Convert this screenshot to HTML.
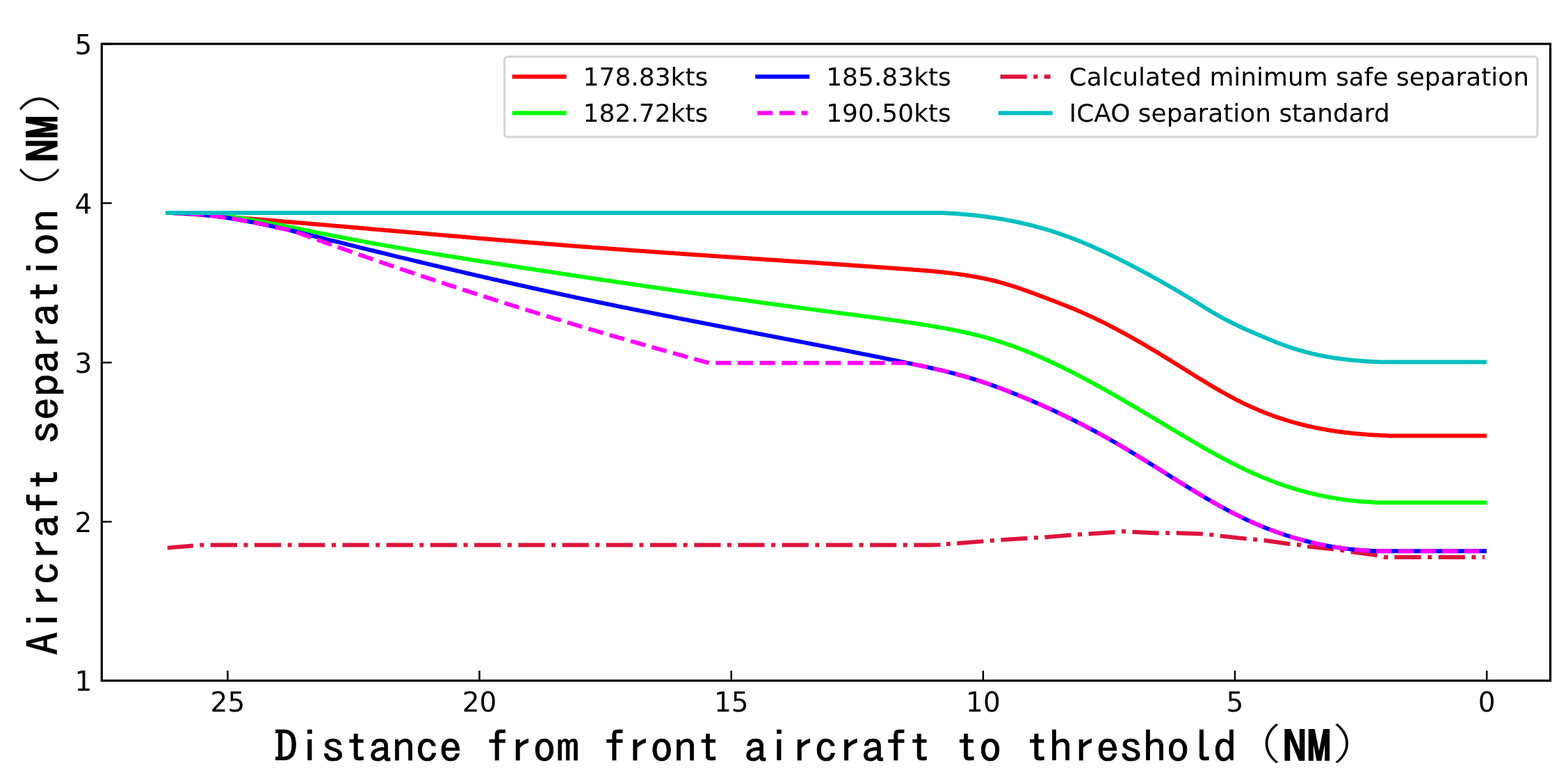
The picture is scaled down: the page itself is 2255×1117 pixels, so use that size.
<!DOCTYPE html>
<html><head><meta charset="utf-8"><title>Aircraft separation chart</title>
<style>html,body{margin:0;padding:0;background:#fff;}svg{display:block;}</style></head>
<body>
<svg width="2255" height="1117" viewBox="0 0 2255 1117">
<rect width="2255" height="1117" fill="#fff"/>
<g fill="none" stroke-width="5.96" stroke-linejoin="round">
<path d="M240.9,787.6 L289.0,783.6 L1340.0,783.6 L1351.0,783.0 L1357.0,782.5" stroke="#dc143c" stroke-dasharray="38.18 9.54 5.96 9.54" stroke-dashoffset="1.16"/>
<path d="M1357.0,782.5 L1377.6,781.0 L1414.2,778.1 L1439.7,776.1 L1477.4,773.7 L1502.9,772.2 L1539.5,769.3 L1553.3,768.3 L1566.0,767.5 L1602.7,765.0 L1616.0,763.8 L1630.0,764.7 L1666.4,766.4 L1692.0,766.2 L1728.5,767.4 L1741.2,768.6 L1754.0,770.3 L1791.7,774.4 L1804.0,775.5 L1817.8,776.8 L1852.9,781.8 L1866.7,783.0 L1880.5,785.6 L1915.5,789.3 L1929.3,791.0 L1941.9,793.1 L1978.2,798.1 L1990.7,801.1 L2135.0,801.1" stroke="#dc143c" stroke-dasharray="38.18 9.54 5.96 9.54" stroke-dashoffset="43.86"/>
<path d="M241.0,305.9 L243.0,305.9 L245.0,306.0 L247.0,306.0 L249.0,306.1 L251.0,306.2 L253.0,306.3 L255.0,306.4 L257.0,306.5 L259.0,306.6 L261.0,306.7 L263.0,306.9 L265.0,307.0 L267.0,307.2 L269.0,307.3 L271.0,307.5 L273.0,307.7 L275.0,307.8 L277.0,308.0 L279.0,308.1 L281.0,308.3 L283.0,308.4 L285.0,308.6 L287.0,308.7 L289.0,308.9 L291.0,309.0 L293.0,309.2 L295.0,309.3 L297.0,309.5 L299.0,309.6 L301.0,309.8 L303.0,309.9 L305.0,310.1 L307.0,310.3 L309.0,310.4 L311.0,310.6 L313.0,310.7 L315.0,310.9 L317.0,311.0 L319.0,311.2 L321.0,311.3 L323.0,311.5 L325.0,311.7 L327.0,311.8 L329.0,312.0 L331.0,312.1 L333.0,312.3 L335.0,312.5 L337.0,312.6 L339.0,312.8 L341.0,312.9 L343.0,313.1 L345.0,313.3 L347.0,313.4 L349.0,313.6 L351.0,313.7 L353.0,313.9 L355.0,314.1 L357.0,314.2 L359.0,314.4 L361.0,314.5 L363.0,314.7 L365.0,314.9 L367.0,315.0 L369.0,315.2 L371.0,315.4 L373.0,315.5 L375.0,315.7 L377.0,315.8 L379.0,316.0 L381.0,316.2 L383.0,316.3 L385.0,316.5 L387.0,316.7 L389.0,316.8 L391.0,317.0 L393.0,317.2 L395.0,317.3 L397.0,317.5 L399.0,317.7 L401.0,317.8 L403.0,318.0 L405.0,318.2 L407.0,318.3 L409.0,318.5 L411.0,318.7 L413.0,318.8 L415.0,319.0 L417.0,319.2 L419.0,319.3 L421.0,319.5 L423.0,319.7 L425.0,319.8 L427.0,320.0 L429.0,320.2 L431.0,320.3 L433.0,320.5 L435.0,320.7 L437.0,320.8 L439.0,321.0 L441.0,321.2 L443.0,321.4 L445.0,321.5 L447.0,321.7 L449.0,321.9 L451.0,322.0 L453.0,322.2 L455.0,322.4 L457.0,322.5 L459.0,322.7 L461.0,322.9 L463.0,323.1 L465.0,323.2 L467.0,323.4 L469.0,323.6 L471.0,323.7 L473.0,323.9 L475.0,324.1 L477.0,324.3 L479.0,324.4 L481.0,324.6 L483.0,324.8 L485.0,324.9 L487.0,325.1 L489.0,325.3 L491.0,325.5 L493.0,325.6 L495.0,325.8 L497.0,326.0 L499.0,326.1 L501.0,326.3 L503.0,326.5 L505.0,326.7 L507.0,326.8 L509.0,327.0 L511.0,327.2 L513.0,327.3 L515.0,327.5 L517.0,327.7 L519.0,327.9 L521.0,328.0 L523.0,328.2 L525.0,328.4 L527.0,328.6 L529.0,328.7 L531.0,328.9 L533.0,329.1 L535.0,329.3 L537.0,329.4 L539.0,329.6 L541.0,329.8 L543.0,329.9 L545.0,330.1 L547.0,330.3 L549.0,330.5 L551.0,330.6 L553.0,330.8 L555.0,331.0 L557.0,331.2 L559.0,331.3 L561.0,331.5 L563.0,331.7 L565.0,331.9 L567.0,332.0 L569.0,332.2 L571.0,332.4 L573.0,332.5 L575.0,332.7 L577.0,332.9 L579.0,333.1 L581.0,333.2 L583.0,333.4 L585.0,333.6 L587.0,333.8 L589.0,333.9 L591.0,334.1 L593.0,334.3 L595.0,334.5 L597.0,334.6 L599.0,334.8 L601.0,335.0 L603.0,335.1 L605.0,335.3 L607.0,335.5 L609.0,335.7 L611.0,335.8 L613.0,336.0 L615.0,336.2 L617.0,336.4 L619.0,336.5 L621.0,336.7 L623.0,336.9 L625.0,337.0 L627.0,337.2 L629.0,337.4 L631.0,337.6 L633.0,337.7 L635.0,337.9 L637.0,338.1 L639.0,338.3 L641.0,338.4 L643.0,338.6 L645.0,338.8 L647.0,338.9 L649.0,339.1 L651.0,339.3 L653.0,339.5 L655.0,339.6 L657.0,339.8 L659.0,340.0 L661.0,340.1 L663.0,340.3 L665.0,340.5 L667.0,340.7 L669.0,340.8 L671.0,341.0 L673.0,341.2 L675.0,341.3 L677.0,341.5 L679.0,341.7 L681.0,341.8 L683.0,342.0 L685.0,342.2 L687.0,342.4 L689.0,342.5 L691.0,342.7 L693.0,342.9 L695.0,343.0 L697.0,343.2 L699.0,343.4 L701.0,343.5 L703.0,343.7 L705.0,343.9 L707.0,344.0 L709.0,344.2 L711.0,344.4 L713.0,344.5 L715.0,344.7 L717.0,344.9 L719.0,345.0 L721.0,345.2 L723.0,345.4 L725.0,345.5 L727.0,345.7 L729.0,345.9 L731.0,346.0 L733.0,346.2 L735.0,346.4 L737.0,346.5 L739.0,346.7 L741.0,346.9 L743.0,347.0 L745.0,347.2 L747.0,347.4 L749.0,347.5 L751.0,347.7 L753.0,347.9 L755.0,348.0 L757.0,348.2 L759.0,348.3 L761.0,348.5 L763.0,348.7 L765.0,348.8 L767.0,349.0 L769.0,349.2 L771.0,349.3 L773.0,349.5 L775.0,349.6 L777.0,349.8 L779.0,350.0 L781.0,350.1 L783.0,350.3 L785.0,350.4 L787.0,350.6 L789.0,350.8 L791.0,350.9 L793.0,351.1 L795.0,351.2 L797.0,351.4 L799.0,351.6 L801.0,351.7 L803.0,351.9 L805.0,352.0 L807.0,352.2 L809.0,352.4 L811.0,352.5 L813.0,352.7 L815.0,352.8 L817.0,353.0 L819.0,353.1 L821.0,353.3 L823.0,353.4 L825.0,353.6 L827.0,353.8 L829.0,353.9 L831.0,354.1 L833.0,354.2 L835.0,354.4 L837.0,354.5 L839.0,354.7 L841.0,354.8 L843.0,355.0 L845.0,355.1 L847.0,355.3 L849.0,355.4 L851.0,355.6 L853.0,355.7 L855.0,355.9 L857.0,356.0 L859.0,356.2 L861.0,356.3 L863.0,356.5 L865.0,356.6 L867.0,356.8 L869.0,356.9 L871.0,357.1 L873.0,357.2 L875.0,357.4 L877.0,357.5 L879.0,357.7 L881.0,357.8 L883.0,358.0 L885.0,358.1 L887.0,358.3 L889.0,358.4 L891.0,358.6 L893.0,358.7 L895.0,358.8 L897.0,359.0 L899.0,359.1 L901.0,359.3 L903.0,359.4 L905.0,359.6 L907.0,359.7 L909.0,359.9 L911.0,360.0 L913.0,360.1 L915.0,360.3 L917.0,360.4 L919.0,360.6 L921.0,360.7 L923.0,360.9 L925.0,361.0 L927.0,361.1 L929.0,361.3 L931.0,361.4 L933.0,361.6 L935.0,361.7 L937.0,361.9 L939.0,362.0 L941.0,362.1 L943.0,362.3 L945.0,362.4 L947.0,362.6 L949.0,362.7 L951.0,362.8 L953.0,363.0 L955.0,363.1 L957.0,363.3 L959.0,363.4 L961.0,363.5 L963.0,363.7 L965.0,363.8 L967.0,364.0 L969.0,364.1 L971.0,364.2 L973.0,364.4 L975.0,364.5 L977.0,364.6 L979.0,364.8 L981.0,364.9 L983.0,365.1 L985.0,365.2 L987.0,365.3 L989.0,365.5 L991.0,365.6 L993.0,365.7 L995.0,365.9 L997.0,366.0 L999.0,366.2 L1001.0,366.3 L1003.0,366.4 L1005.0,366.6 L1007.0,366.7 L1009.0,366.8 L1011.0,367.0 L1013.0,367.1 L1015.0,367.2 L1017.0,367.4 L1019.0,367.5 L1021.0,367.6 L1023.0,367.8 L1025.0,367.9 L1027.0,368.1 L1029.0,368.2 L1031.0,368.3 L1033.0,368.5 L1035.0,368.6 L1037.0,368.7 L1039.0,368.9 L1041.0,369.0 L1043.0,369.1 L1045.0,369.3 L1047.0,369.4 L1049.0,369.5 L1051.0,369.7 L1053.0,369.8 L1055.0,369.9 L1057.0,370.1 L1059.0,370.2 L1061.0,370.3 L1063.0,370.5 L1065.0,370.6 L1067.0,370.7 L1069.0,370.9 L1071.0,371.0 L1073.0,371.1 L1075.0,371.3 L1077.0,371.4 L1079.0,371.5 L1081.0,371.7 L1083.0,371.8 L1085.0,371.9 L1087.0,372.1 L1089.0,372.2 L1091.0,372.3 L1093.0,372.5 L1095.0,372.6 L1097.0,372.7 L1099.0,372.9 L1101.0,373.0 L1103.0,373.2 L1105.0,373.3 L1107.0,373.4 L1109.0,373.6 L1111.0,373.7 L1113.0,373.8 L1115.0,374.0 L1117.0,374.1 L1119.0,374.2 L1121.0,374.4 L1123.0,374.5 L1125.0,374.6 L1127.0,374.8 L1129.0,374.9 L1131.0,375.0 L1133.0,375.2 L1135.0,375.3 L1137.0,375.4 L1139.0,375.6 L1141.0,375.7 L1143.0,375.8 L1145.0,376.0 L1147.0,376.1 L1149.0,376.2 L1151.0,376.4 L1153.0,376.5 L1155.0,376.6 L1157.0,376.8 L1159.0,376.9 L1161.0,377.0 L1163.0,377.2 L1165.0,377.3 L1167.0,377.4 L1169.0,377.6 L1171.0,377.7 L1173.0,377.8 L1175.0,378.0 L1177.0,378.1 L1179.0,378.2 L1181.0,378.4 L1183.0,378.5 L1185.0,378.7 L1187.0,378.8 L1189.0,378.9 L1191.0,379.1 L1193.0,379.2 L1195.0,379.3 L1197.0,379.5 L1199.0,379.6 L1201.0,379.7 L1203.0,379.9 L1205.0,380.0 L1207.0,380.2 L1209.0,380.3 L1211.0,380.4 L1213.0,380.6 L1215.0,380.7 L1217.0,380.8 L1219.0,381.0 L1221.0,381.1 L1223.0,381.3 L1225.0,381.4 L1227.0,381.5 L1229.0,381.7 L1231.0,381.8 L1233.0,381.9 L1235.0,382.1 L1237.0,382.2 L1239.0,382.4 L1241.0,382.5 L1243.0,382.6 L1245.0,382.8 L1247.0,382.9 L1249.0,383.1 L1251.0,383.2 L1253.0,383.3 L1255.0,383.5 L1257.0,383.6 L1259.0,383.8 L1261.0,383.9 L1263.0,384.0 L1265.0,384.2 L1267.0,384.3 L1269.0,384.5 L1271.0,384.6 L1273.0,384.7 L1275.0,384.9 L1277.0,385.0 L1279.0,385.2 L1281.0,385.3 L1283.0,385.5 L1285.0,385.6 L1287.0,385.7 L1289.0,385.9 L1291.0,386.0 L1293.0,386.2 L1295.0,386.3 L1297.0,386.5 L1299.0,386.6 L1301.0,386.8 L1303.0,386.9 L1305.0,387.0 L1307.0,387.2 L1309.0,387.3 L1311.0,387.5 L1313.0,387.6 L1315.0,387.8 L1317.0,387.9 L1319.0,388.1 L1321.0,388.2 L1323.0,388.4 L1325.0,388.6 L1327.0,388.7 L1329.0,388.9 L1331.0,389.0 L1333.0,389.2 L1335.0,389.4 L1337.0,389.6 L1339.0,389.7 L1341.0,389.9 L1343.0,390.1 L1345.0,390.3 L1347.0,390.5 L1349.0,390.7 L1351.0,390.9 L1353.0,391.1 L1355.0,391.3 L1357.0,391.5 L1359.0,391.7 L1361.0,391.9 L1363.0,392.2 L1365.0,392.4 L1367.0,392.6 L1369.0,392.9 L1371.0,393.1 L1373.0,393.4 L1375.0,393.6 L1377.0,393.9 L1379.0,394.2 L1381.0,394.5 L1383.0,394.8 L1385.0,395.0 L1387.0,395.3 L1389.0,395.7 L1391.0,396.0 L1393.0,396.3 L1395.0,396.6 L1397.0,397.0 L1399.0,397.3 L1401.0,397.7 L1403.0,398.0 L1405.0,398.4 L1407.0,398.8 L1409.0,399.1 L1411.0,399.5 L1413.0,399.9 L1415.0,400.4 L1417.0,400.8 L1419.0,401.2 L1421.0,401.7 L1423.0,402.1 L1425.0,402.6 L1427.0,403.0 L1429.0,403.5 L1431.0,404.0 L1433.0,404.5 L1435.0,405.0 L1437.0,405.6 L1439.0,406.1 L1441.0,406.7 L1443.0,407.2 L1445.0,407.8 L1447.0,408.4 L1449.0,409.0 L1451.0,409.6 L1453.0,410.2 L1455.0,410.8 L1457.0,411.4 L1459.0,412.1 L1461.0,412.7 L1463.0,413.4 L1465.0,414.1 L1467.0,414.8 L1469.0,415.5 L1471.0,416.2 L1473.0,416.9 L1475.0,417.6 L1477.0,418.3 L1479.0,419.0 L1481.0,419.7 L1483.0,420.5 L1485.0,421.2 L1487.0,422.0 L1489.0,422.7 L1491.0,423.4 L1493.0,424.2 L1495.0,424.9 L1497.0,425.7 L1499.0,426.4 L1501.0,427.2 L1503.0,428.0 L1505.0,428.7 L1507.0,429.5 L1509.0,430.2 L1511.0,431.0 L1513.0,431.8 L1515.0,432.5 L1517.0,433.3 L1519.0,434.1 L1521.0,434.8 L1523.0,435.6 L1525.0,436.4 L1527.0,437.2 L1529.0,438.0 L1531.0,438.7 L1533.0,439.5 L1535.0,440.3 L1537.0,441.2 L1539.0,442.0 L1541.0,442.8 L1543.0,443.6 L1545.0,444.4 L1547.0,445.3 L1549.0,446.1 L1551.0,447.0 L1553.0,447.8 L1555.0,448.7 L1557.0,449.6 L1559.0,450.5 L1561.0,451.4 L1563.0,452.3 L1565.0,453.2 L1567.0,454.1 L1569.0,455.0 L1571.0,456.0 L1573.0,456.9 L1575.0,457.9 L1577.0,458.8 L1579.0,459.8 L1581.0,460.7 L1583.0,461.7 L1585.0,462.7 L1587.0,463.7 L1589.0,464.7 L1591.0,465.7 L1593.0,466.7 L1595.0,467.7 L1597.0,468.8 L1599.0,469.8 L1601.0,470.8 L1603.0,471.9 L1605.0,472.9 L1607.0,474.0 L1609.0,475.1 L1611.0,476.1 L1613.0,477.2 L1615.0,478.3 L1617.0,479.4 L1619.0,480.5 L1621.0,481.6 L1623.0,482.7 L1625.0,483.8 L1627.0,484.9 L1629.0,486.0 L1631.0,487.2 L1633.0,488.3 L1635.0,489.4 L1637.0,490.6 L1639.0,491.7 L1641.0,492.9 L1643.0,494.0 L1645.0,495.2 L1647.0,496.4 L1649.0,497.5 L1651.0,498.7 L1653.0,499.9 L1655.0,501.1 L1657.0,502.3 L1659.0,503.4 L1661.0,504.6 L1663.0,505.8 L1665.0,507.0 L1667.0,508.3 L1669.0,509.5 L1671.0,510.7 L1673.0,511.9 L1675.0,513.1 L1677.0,514.4 L1679.0,515.6 L1681.0,516.8 L1683.0,518.0 L1685.0,519.3 L1687.0,520.5 L1689.0,521.8 L1691.0,523.0 L1693.0,524.3 L1695.0,525.5 L1697.0,526.8 L1699.0,528.0 L1701.0,529.3 L1703.0,530.5 L1705.0,531.8 L1707.0,533.0 L1709.0,534.3 L1711.0,535.5 L1713.0,536.8 L1715.0,538.0 L1717.0,539.2 L1719.0,540.5 L1721.0,541.7 L1723.0,543.0 L1725.0,544.2 L1727.0,545.4 L1729.0,546.6 L1731.0,547.8 L1733.0,549.1 L1735.0,550.3 L1737.0,551.5 L1739.0,552.7 L1741.0,553.9 L1743.0,555.1 L1745.0,556.2 L1747.0,557.4 L1749.0,558.6 L1751.0,559.7 L1753.0,560.9 L1755.0,562.1 L1757.0,563.2 L1759.0,564.3 L1761.0,565.4 L1763.0,566.5 L1765.0,567.6 L1767.0,568.7 L1769.0,569.8 L1771.0,570.9 L1773.0,572.0 L1775.0,573.0 L1777.0,574.1 L1779.0,575.1 L1781.0,576.1 L1783.0,577.1 L1785.0,578.1 L1787.0,579.1 L1789.0,580.1 L1791.0,581.0 L1793.0,582.0 L1795.0,582.9 L1797.0,583.8 L1799.0,584.7 L1801.0,585.6 L1803.0,586.5 L1805.0,587.4 L1807.0,588.3 L1809.0,589.1 L1811.0,590.0 L1813.0,590.8 L1815.0,591.6 L1817.0,592.4 L1819.0,593.2 L1821.0,594.0 L1823.0,594.8 L1825.0,595.5 L1827.0,596.3 L1829.0,597.0 L1831.0,597.7 L1833.0,598.5 L1835.0,599.2 L1837.0,599.9 L1839.0,600.6 L1841.0,601.2 L1843.0,601.9 L1845.0,602.5 L1847.0,603.2 L1849.0,603.8 L1851.0,604.4 L1853.0,605.0 L1855.0,605.6 L1857.0,606.2 L1859.0,606.8 L1861.0,607.4 L1863.0,607.9 L1865.0,608.5 L1867.0,609.0 L1869.0,609.5 L1871.0,610.0 L1873.0,610.5 L1875.0,611.0 L1877.0,611.5 L1879.0,612.0 L1881.0,612.5 L1883.0,612.9 L1885.0,613.4 L1887.0,613.8 L1889.0,614.2 L1891.0,614.6 L1893.0,615.1 L1895.0,615.5 L1897.0,615.8 L1899.0,616.2 L1901.0,616.6 L1903.0,617.0 L1905.0,617.3 L1907.0,617.7 L1909.0,618.0 L1911.0,618.4 L1913.0,618.7 L1915.0,619.0 L1917.0,619.3 L1919.0,619.6 L1921.0,619.9 L1923.0,620.2 L1925.0,620.5 L1927.0,620.7 L1929.0,621.0 L1931.0,621.3 L1933.0,621.5 L1935.0,621.8 L1937.0,622.0 L1939.0,622.2 L1941.0,622.4 L1943.0,622.7 L1945.0,622.9 L1947.0,623.1 L1949.0,623.3 L1951.0,623.5 L1953.0,623.6 L1955.0,623.8 L1957.0,624.0 L1959.0,624.2 L1961.0,624.3 L1963.0,624.5 L1965.0,624.6 L1967.0,624.8 L1969.0,624.9 L1971.0,625.0 L1973.0,625.2 L1975.0,625.3 L1977.0,625.4 L1979.0,625.5 L1981.0,625.6 L1983.0,625.7 L1985.0,625.8 L1987.0,625.9 L1989.0,626.0 L1991.0,626.1 L1993.0,626.2 L1995.0,626.3 L1997.0,626.3 L1999.0,626.4 L2001.0,626.4 L2003.0,626.4 L2005.0,626.4 L2007.0,626.4 L2009.0,626.4 L2011.0,626.4 L2013.0,626.4 L2015.0,626.4 L2017.0,626.4 L2019.0,626.4 L2021.0,626.4 L2023.0,626.4 L2025.0,626.4 L2027.0,626.4 L2029.0,626.4 L2031.0,626.4 L2033.0,626.4 L2035.0,626.4 L2037.0,626.4 L2039.0,626.4 L2041.0,626.4 L2043.0,626.4 L2045.0,626.4 L2047.0,626.4 L2049.0,626.4 L2051.0,626.4 L2053.0,626.4 L2055.0,626.4 L2057.0,626.4 L2059.0,626.4 L2061.0,626.4 L2063.0,626.4 L2065.0,626.4 L2067.0,626.4 L2069.0,626.4 L2071.0,626.4 L2073.0,626.4 L2075.0,626.4 L2077.0,626.4 L2079.0,626.4 L2081.0,626.4 L2083.0,626.4 L2085.0,626.4 L2087.0,626.4 L2089.0,626.4 L2091.0,626.4 L2093.0,626.4 L2095.0,626.4 L2097.0,626.4 L2099.0,626.4 L2101.0,626.4 L2103.0,626.4 L2105.0,626.4 L2107.0,626.4 L2109.0,626.4 L2111.0,626.4 L2113.0,626.4 L2115.0,626.4 L2117.0,626.4 L2119.0,626.4 L2121.0,626.4 L2123.0,626.4 L2125.0,626.4 L2127.0,626.4 L2129.0,626.4 L2131.0,626.4 L2133.0,626.4 L2135.0,626.4" stroke="#ff0000" stroke-linecap="square"/>
<path d="M241.0,305.9 L243.0,305.9 L245.0,305.9 L247.0,305.9 L249.0,305.9 L251.0,305.9 L253.0,305.9 L255.0,305.9 L257.0,305.9 L259.0,305.9 L261.0,305.9 L263.0,306.0 L265.0,306.0 L267.0,306.1 L269.0,306.1 L271.0,306.2 L273.0,306.2 L275.0,306.3 L277.0,306.4 L279.0,306.5 L281.0,306.6 L283.0,306.8 L285.0,306.9 L287.0,307.0 L289.0,307.2 L291.0,307.3 L293.0,307.5 L295.0,307.6 L297.0,307.8 L299.0,308.0 L301.0,308.1 L303.0,308.3 L305.0,308.5 L307.0,308.7 L309.0,308.9 L311.0,309.1 L313.0,309.3 L315.0,309.6 L317.0,309.8 L319.0,310.0 L321.0,310.3 L323.0,310.5 L325.0,310.8 L327.0,311.0 L329.0,311.3 L331.0,311.5 L333.0,311.8 L335.0,312.1 L337.0,312.3 L339.0,312.6 L341.0,312.9 L343.0,313.2 L345.0,313.5 L347.0,313.8 L349.0,314.1 L351.0,314.4 L353.0,314.7 L355.0,315.0 L357.0,315.4 L359.0,315.7 L361.0,316.0 L363.0,316.3 L365.0,316.7 L367.0,317.0 L369.0,317.4 L371.0,317.7 L373.0,318.1 L375.0,318.4 L377.0,318.8 L379.0,319.1 L381.0,319.5 L383.0,319.8 L385.0,320.2 L387.0,320.6 L389.0,320.9 L391.0,321.3 L393.0,321.7 L395.0,322.1 L397.0,322.5 L399.0,322.8 L401.0,323.2 L403.0,323.6 L405.0,324.0 L407.0,324.4 L409.0,324.8 L411.0,325.2 L413.0,325.6 L415.0,326.0 L417.0,326.4 L419.0,326.8 L421.0,327.2 L423.0,327.6 L425.0,328.0 L427.0,328.4 L429.0,328.8 L431.0,329.2 L433.0,329.6 L435.0,330.0 L437.0,330.4 L439.0,330.8 L441.0,331.2 L443.0,331.6 L445.0,332.0 L447.0,332.4 L449.0,332.8 L451.0,333.2 L453.0,333.6 L455.0,334.1 L457.0,334.5 L459.0,334.9 L461.0,335.3 L463.0,335.7 L465.0,336.1 L467.0,336.5 L469.0,336.9 L471.0,337.3 L473.0,337.7 L475.0,338.1 L477.0,338.5 L479.0,338.9 L481.0,339.3 L483.0,339.7 L485.0,340.1 L487.0,340.5 L489.0,340.8 L491.0,341.2 L493.0,341.6 L495.0,342.0 L497.0,342.4 L499.0,342.8 L501.0,343.2 L503.0,343.5 L505.0,343.9 L507.0,344.3 L509.0,344.7 L511.0,345.0 L513.0,345.4 L515.0,345.8 L517.0,346.2 L519.0,346.5 L521.0,346.9 L523.0,347.3 L525.0,347.7 L527.0,348.0 L529.0,348.4 L531.0,348.8 L533.0,349.1 L535.0,349.5 L537.0,349.8 L539.0,350.2 L541.0,350.6 L543.0,350.9 L545.0,351.3 L547.0,351.6 L549.0,352.0 L551.0,352.3 L553.0,352.7 L555.0,353.1 L557.0,353.4 L559.0,353.8 L561.0,354.1 L563.0,354.5 L565.0,354.8 L567.0,355.2 L569.0,355.5 L571.0,355.9 L573.0,356.2 L575.0,356.5 L577.0,356.9 L579.0,357.2 L581.0,357.6 L583.0,357.9 L585.0,358.3 L587.0,358.6 L589.0,358.9 L591.0,359.3 L593.0,359.6 L595.0,359.9 L597.0,360.3 L599.0,360.6 L601.0,360.9 L603.0,361.3 L605.0,361.6 L607.0,361.9 L609.0,362.3 L611.0,362.6 L613.0,362.9 L615.0,363.3 L617.0,363.6 L619.0,363.9 L621.0,364.3 L623.0,364.6 L625.0,364.9 L627.0,365.2 L629.0,365.6 L631.0,365.9 L633.0,366.2 L635.0,366.5 L637.0,366.9 L639.0,367.2 L641.0,367.5 L643.0,367.8 L645.0,368.2 L647.0,368.5 L649.0,368.8 L651.0,369.1 L653.0,369.4 L655.0,369.8 L657.0,370.1 L659.0,370.4 L661.0,370.7 L663.0,371.0 L665.0,371.4 L667.0,371.7 L669.0,372.0 L671.0,372.3 L673.0,372.6 L675.0,372.9 L677.0,373.3 L679.0,373.6 L681.0,373.9 L683.0,374.2 L685.0,374.5 L687.0,374.8 L689.0,375.1 L691.0,375.5 L693.0,375.8 L695.0,376.1 L697.0,376.4 L699.0,376.7 L701.0,377.0 L703.0,377.3 L705.0,377.6 L707.0,378.0 L709.0,378.3 L711.0,378.6 L713.0,378.9 L715.0,379.2 L717.0,379.5 L719.0,379.8 L721.0,380.1 L723.0,380.5 L725.0,380.8 L727.0,381.1 L729.0,381.4 L731.0,381.7 L733.0,382.0 L735.0,382.3 L737.0,382.6 L739.0,382.9 L741.0,383.2 L743.0,383.6 L745.0,383.9 L747.0,384.2 L749.0,384.5 L751.0,384.8 L753.0,385.1 L755.0,385.4 L757.0,385.7 L759.0,386.0 L761.0,386.3 L763.0,386.6 L765.0,386.9 L767.0,387.2 L769.0,387.6 L771.0,387.9 L773.0,388.2 L775.0,388.5 L777.0,388.8 L779.0,389.1 L781.0,389.4 L783.0,389.7 L785.0,390.0 L787.0,390.3 L789.0,390.6 L791.0,390.9 L793.0,391.2 L795.0,391.5 L797.0,391.8 L799.0,392.1 L801.0,392.4 L803.0,392.7 L805.0,393.0 L807.0,393.3 L809.0,393.7 L811.0,394.0 L813.0,394.3 L815.0,394.6 L817.0,394.9 L819.0,395.2 L821.0,395.5 L823.0,395.8 L825.0,396.1 L827.0,396.4 L829.0,396.7 L831.0,397.0 L833.0,397.3 L835.0,397.6 L837.0,397.9 L839.0,398.2 L841.0,398.5 L843.0,398.8 L845.0,399.1 L847.0,399.4 L849.0,399.7 L851.0,400.0 L853.0,400.3 L855.0,400.6 L857.0,400.9 L859.0,401.2 L861.0,401.5 L863.0,401.8 L865.0,402.1 L867.0,402.4 L869.0,402.7 L871.0,403.0 L873.0,403.3 L875.0,403.5 L877.0,403.8 L879.0,404.1 L881.0,404.4 L883.0,404.7 L885.0,405.0 L887.0,405.3 L889.0,405.6 L891.0,405.9 L893.0,406.2 L895.0,406.5 L897.0,406.8 L899.0,407.1 L901.0,407.4 L903.0,407.7 L905.0,408.0 L907.0,408.3 L909.0,408.6 L911.0,408.9 L913.0,409.2 L915.0,409.4 L917.0,409.7 L919.0,410.0 L921.0,410.3 L923.0,410.6 L925.0,410.9 L927.0,411.2 L929.0,411.5 L931.0,411.8 L933.0,412.1 L935.0,412.4 L937.0,412.7 L939.0,412.9 L941.0,413.2 L943.0,413.5 L945.0,413.8 L947.0,414.1 L949.0,414.4 L951.0,414.7 L953.0,415.0 L955.0,415.3 L957.0,415.5 L959.0,415.8 L961.0,416.1 L963.0,416.4 L965.0,416.7 L967.0,417.0 L969.0,417.3 L971.0,417.6 L973.0,417.8 L975.0,418.1 L977.0,418.4 L979.0,418.7 L981.0,419.0 L983.0,419.3 L985.0,419.6 L987.0,419.9 L989.0,420.1 L991.0,420.4 L993.0,420.7 L995.0,421.0 L997.0,421.3 L999.0,421.6 L1001.0,421.8 L1003.0,422.1 L1005.0,422.4 L1007.0,422.7 L1009.0,423.0 L1011.0,423.3 L1013.0,423.5 L1015.0,423.8 L1017.0,424.1 L1019.0,424.4 L1021.0,424.7 L1023.0,425.0 L1025.0,425.2 L1027.0,425.5 L1029.0,425.8 L1031.0,426.1 L1033.0,426.4 L1035.0,426.6 L1037.0,426.9 L1039.0,427.2 L1041.0,427.5 L1043.0,427.8 L1045.0,428.0 L1047.0,428.3 L1049.0,428.6 L1051.0,428.9 L1053.0,429.2 L1055.0,429.4 L1057.0,429.7 L1059.0,430.0 L1061.0,430.3 L1063.0,430.5 L1065.0,430.8 L1067.0,431.1 L1069.0,431.4 L1071.0,431.6 L1073.0,431.9 L1075.0,432.2 L1077.0,432.5 L1079.0,432.8 L1081.0,433.0 L1083.0,433.3 L1085.0,433.6 L1087.0,433.8 L1089.0,434.1 L1091.0,434.4 L1093.0,434.7 L1095.0,434.9 L1097.0,435.2 L1099.0,435.5 L1101.0,435.8 L1103.0,436.0 L1105.0,436.3 L1107.0,436.6 L1109.0,436.9 L1111.0,437.1 L1113.0,437.4 L1115.0,437.7 L1117.0,437.9 L1119.0,438.2 L1121.0,438.5 L1123.0,438.8 L1125.0,439.0 L1127.0,439.3 L1129.0,439.6 L1131.0,439.8 L1133.0,440.1 L1135.0,440.4 L1137.0,440.6 L1139.0,440.9 L1141.0,441.2 L1143.0,441.4 L1145.0,441.7 L1147.0,442.0 L1149.0,442.3 L1151.0,442.5 L1153.0,442.8 L1155.0,443.1 L1157.0,443.3 L1159.0,443.6 L1161.0,443.9 L1163.0,444.1 L1165.0,444.4 L1167.0,444.6 L1169.0,444.9 L1171.0,445.2 L1173.0,445.4 L1175.0,445.7 L1177.0,446.0 L1179.0,446.2 L1181.0,446.5 L1183.0,446.8 L1185.0,447.0 L1187.0,447.3 L1189.0,447.6 L1191.0,447.8 L1193.0,448.1 L1195.0,448.3 L1197.0,448.6 L1199.0,448.9 L1201.0,449.1 L1203.0,449.4 L1205.0,449.7 L1207.0,449.9 L1209.0,450.2 L1211.0,450.4 L1213.0,450.7 L1215.0,451.0 L1217.0,451.2 L1219.0,451.5 L1221.0,451.7 L1223.0,452.0 L1225.0,452.3 L1227.0,452.5 L1229.0,452.8 L1231.0,453.0 L1233.0,453.3 L1235.0,453.6 L1237.0,453.8 L1239.0,454.1 L1241.0,454.4 L1243.0,454.6 L1245.0,454.9 L1247.0,455.2 L1249.0,455.4 L1251.0,455.7 L1253.0,456.0 L1255.0,456.2 L1257.0,456.5 L1259.0,456.8 L1261.0,457.0 L1263.0,457.3 L1265.0,457.6 L1267.0,457.9 L1269.0,458.1 L1271.0,458.4 L1273.0,458.7 L1275.0,459.0 L1277.0,459.2 L1279.0,459.5 L1281.0,459.8 L1283.0,460.1 L1285.0,460.4 L1287.0,460.6 L1289.0,460.9 L1291.0,461.2 L1293.0,461.5 L1295.0,461.8 L1297.0,462.1 L1299.0,462.4 L1301.0,462.7 L1303.0,463.0 L1305.0,463.3 L1307.0,463.6 L1309.0,463.9 L1311.0,464.2 L1313.0,464.5 L1315.0,464.8 L1317.0,465.1 L1319.0,465.4 L1321.0,465.7 L1323.0,466.0 L1325.0,466.3 L1327.0,466.7 L1329.0,467.0 L1331.0,467.3 L1333.0,467.6 L1335.0,467.9 L1337.0,468.3 L1339.0,468.6 L1341.0,468.9 L1343.0,469.3 L1345.0,469.6 L1347.0,470.0 L1349.0,470.3 L1351.0,470.6 L1353.0,471.0 L1355.0,471.3 L1357.0,471.7 L1359.0,472.1 L1361.0,472.4 L1363.0,472.8 L1365.0,473.2 L1367.0,473.5 L1369.0,473.9 L1371.0,474.3 L1373.0,474.7 L1375.0,475.1 L1377.0,475.5 L1379.0,475.9 L1381.0,476.3 L1383.0,476.8 L1385.0,477.2 L1387.0,477.6 L1389.0,478.1 L1391.0,478.5 L1393.0,479.0 L1395.0,479.4 L1397.0,479.9 L1399.0,480.4 L1401.0,480.8 L1403.0,481.3 L1405.0,481.8 L1407.0,482.3 L1409.0,482.9 L1411.0,483.4 L1413.0,483.9 L1415.0,484.5 L1417.0,485.0 L1419.0,485.6 L1421.0,486.1 L1423.0,486.7 L1425.0,487.3 L1427.0,487.9 L1429.0,488.5 L1431.0,489.1 L1433.0,489.7 L1435.0,490.3 L1437.0,490.9 L1439.0,491.6 L1441.0,492.2 L1443.0,492.9 L1445.0,493.5 L1447.0,494.2 L1449.0,494.9 L1451.0,495.6 L1453.0,496.3 L1455.0,497.0 L1457.0,497.7 L1459.0,498.4 L1461.0,499.2 L1463.0,499.9 L1465.0,500.7 L1467.0,501.4 L1469.0,502.2 L1471.0,503.0 L1473.0,503.8 L1475.0,504.6 L1477.0,505.4 L1479.0,506.2 L1481.0,507.0 L1483.0,507.8 L1485.0,508.7 L1487.0,509.5 L1489.0,510.3 L1491.0,511.2 L1493.0,512.1 L1495.0,512.9 L1497.0,513.8 L1499.0,514.7 L1501.0,515.6 L1503.0,516.5 L1505.0,517.4 L1507.0,518.3 L1509.0,519.2 L1511.0,520.1 L1513.0,521.0 L1515.0,522.0 L1517.0,522.9 L1519.0,523.9 L1521.0,524.8 L1523.0,525.8 L1525.0,526.7 L1527.0,527.7 L1529.0,528.7 L1531.0,529.7 L1533.0,530.7 L1535.0,531.7 L1537.0,532.7 L1539.0,533.7 L1541.0,534.7 L1543.0,535.7 L1545.0,536.7 L1547.0,537.7 L1549.0,538.8 L1551.0,539.8 L1553.0,540.9 L1555.0,541.9 L1557.0,543.0 L1559.0,544.0 L1561.0,545.1 L1563.0,546.1 L1565.0,547.2 L1567.0,548.3 L1569.0,549.4 L1571.0,550.4 L1573.0,551.5 L1575.0,552.6 L1577.0,553.7 L1579.0,554.8 L1581.0,555.9 L1583.0,557.0 L1585.0,558.1 L1587.0,559.2 L1589.0,560.3 L1591.0,561.5 L1593.0,562.6 L1595.0,563.7 L1597.0,564.8 L1599.0,566.0 L1601.0,567.1 L1603.0,568.3 L1605.0,569.4 L1607.0,570.5 L1609.0,571.7 L1611.0,572.8 L1613.0,574.0 L1615.0,575.1 L1617.0,576.3 L1619.0,577.5 L1621.0,578.6 L1623.0,579.8 L1625.0,581.0 L1627.0,582.1 L1629.0,583.3 L1631.0,584.5 L1633.0,585.6 L1635.0,586.8 L1637.0,588.0 L1639.0,589.2 L1641.0,590.4 L1643.0,591.5 L1645.0,592.7 L1647.0,593.9 L1649.0,595.1 L1651.0,596.3 L1653.0,597.5 L1655.0,598.7 L1657.0,599.8 L1659.0,601.0 L1661.0,602.2 L1663.0,603.4 L1665.0,604.6 L1667.0,605.8 L1669.0,607.0 L1671.0,608.2 L1673.0,609.4 L1675.0,610.6 L1677.0,611.8 L1679.0,613.0 L1681.0,614.2 L1683.0,615.4 L1685.0,616.6 L1687.0,617.8 L1689.0,619.0 L1691.0,620.2 L1693.0,621.3 L1695.0,622.5 L1697.0,623.7 L1699.0,624.9 L1701.0,626.1 L1703.0,627.3 L1705.0,628.5 L1707.0,629.6 L1709.0,630.8 L1711.0,632.0 L1713.0,633.2 L1715.0,634.3 L1717.0,635.5 L1719.0,636.7 L1721.0,637.8 L1723.0,639.0 L1725.0,640.1 L1727.0,641.3 L1729.0,642.4 L1731.0,643.6 L1733.0,644.7 L1735.0,645.8 L1737.0,647.0 L1739.0,648.1 L1741.0,649.2 L1743.0,650.3 L1745.0,651.4 L1747.0,652.5 L1749.0,653.6 L1751.0,654.7 L1753.0,655.8 L1755.0,656.9 L1757.0,658.0 L1759.0,659.0 L1761.0,660.1 L1763.0,661.1 L1765.0,662.2 L1767.0,663.2 L1769.0,664.3 L1771.0,665.3 L1773.0,666.3 L1775.0,667.3 L1777.0,668.4 L1779.0,669.4 L1781.0,670.3 L1783.0,671.3 L1785.0,672.3 L1787.0,673.3 L1789.0,674.2 L1791.0,675.2 L1793.0,676.1 L1795.0,677.1 L1797.0,678.0 L1799.0,678.9 L1801.0,679.8 L1803.0,680.7 L1805.0,681.6 L1807.0,682.5 L1809.0,683.3 L1811.0,684.2 L1813.0,685.0 L1815.0,685.9 L1817.0,686.7 L1819.0,687.5 L1821.0,688.3 L1823.0,689.1 L1825.0,689.9 L1827.0,690.7 L1829.0,691.5 L1831.0,692.2 L1833.0,693.0 L1835.0,693.7 L1837.0,694.5 L1839.0,695.2 L1841.0,695.9 L1843.0,696.6 L1845.0,697.3 L1847.0,698.0 L1849.0,698.6 L1851.0,699.3 L1853.0,699.9 L1855.0,700.6 L1857.0,701.2 L1859.0,701.8 L1861.0,702.4 L1863.0,703.0 L1865.0,703.6 L1867.0,704.2 L1869.0,704.8 L1871.0,705.4 L1873.0,705.9 L1875.0,706.5 L1877.0,707.0 L1879.0,707.5 L1881.0,708.0 L1883.0,708.6 L1885.0,709.1 L1887.0,709.5 L1889.0,710.0 L1891.0,710.5 L1893.0,710.9 L1895.0,711.4 L1897.0,711.8 L1899.0,712.3 L1901.0,712.7 L1903.0,713.1 L1905.0,713.5 L1907.0,713.9 L1909.0,714.3 L1911.0,714.7 L1913.0,715.0 L1915.0,715.4 L1917.0,715.7 L1919.0,716.1 L1921.0,716.4 L1923.0,716.7 L1925.0,717.0 L1927.0,717.4 L1929.0,717.6 L1931.0,717.9 L1933.0,718.2 L1935.0,718.5 L1937.0,718.7 L1939.0,719.0 L1941.0,719.2 L1943.0,719.5 L1945.0,719.7 L1947.0,719.9 L1949.0,720.1 L1951.0,720.3 L1953.0,720.5 L1955.0,720.7 L1957.0,720.8 L1959.0,721.0 L1961.0,721.2 L1963.0,721.3 L1965.0,721.5 L1967.0,721.6 L1969.0,721.7 L1971.0,721.9 L1973.0,722.0 L1975.0,722.1 L1977.0,722.3 L1979.0,722.4 L1981.0,722.5 L1983.0,722.5 L1985.0,722.6 L1987.0,722.6 L1989.0,722.6 L1991.0,722.6 L1993.0,722.6 L1995.0,722.6 L1997.0,722.6 L1999.0,722.6 L2001.0,722.6 L2003.0,722.6 L2005.0,722.6 L2007.0,722.6 L2009.0,722.6 L2011.0,722.6 L2013.0,722.6 L2015.0,722.6 L2017.0,722.6 L2019.0,722.6 L2021.0,722.6 L2023.0,722.6 L2025.0,722.6 L2027.0,722.6 L2029.0,722.6 L2031.0,722.6 L2033.0,722.6 L2035.0,722.6 L2037.0,722.6 L2039.0,722.6 L2041.0,722.6 L2043.0,722.6 L2045.0,722.6 L2047.0,722.6 L2049.0,722.6 L2051.0,722.6 L2053.0,722.6 L2055.0,722.6 L2057.0,722.6 L2059.0,722.6 L2061.0,722.6 L2063.0,722.6 L2065.0,722.6 L2067.0,722.6 L2069.0,722.6 L2071.0,722.6 L2073.0,722.6 L2075.0,722.6 L2077.0,722.6 L2079.0,722.6 L2081.0,722.6 L2083.0,722.6 L2085.0,722.6 L2087.0,722.6 L2089.0,722.6 L2091.0,722.6 L2093.0,722.6 L2095.0,722.6 L2097.0,722.6 L2099.0,722.6 L2101.0,722.6 L2103.0,722.6 L2105.0,722.6 L2107.0,722.6 L2109.0,722.6 L2111.0,722.6 L2113.0,722.6 L2115.0,722.6 L2117.0,722.6 L2119.0,722.6 L2121.0,722.6 L2123.0,722.6 L2125.0,722.6 L2127.0,722.6 L2129.0,722.6 L2131.0,722.6 L2133.0,722.6 L2135.0,722.6" stroke="#00ff00" stroke-linecap="square"/>
<path d="M241.0,306.1 L243.0,306.1 L245.0,306.1 L247.0,306.1 L249.0,306.2 L251.0,306.2 L253.0,306.3 L255.0,306.3 L257.0,306.4 L259.0,306.4 L261.0,306.5 L263.0,306.6 L265.0,306.7 L267.0,306.8 L269.0,306.9 L271.0,307.1 L273.0,307.2 L275.0,307.3 L277.0,307.5 L279.0,307.6 L281.0,307.8 L283.0,307.9 L285.0,308.1 L287.0,308.3 L289.0,308.5 L291.0,308.7 L293.0,308.9 L295.0,309.1 L297.0,309.3 L299.0,309.5 L301.0,309.7 L303.0,309.9 L305.0,310.2 L307.0,310.4 L309.0,310.7 L311.0,310.9 L313.0,311.2 L315.0,311.5 L317.0,311.7 L319.0,312.0 L321.0,312.3 L323.0,312.6 L325.0,312.9 L327.0,313.2 L329.0,313.5 L331.0,313.8 L333.0,314.1 L335.0,314.4 L337.0,314.8 L339.0,315.1 L341.0,315.4 L343.0,315.8 L345.0,316.1 L347.0,316.5 L349.0,316.8 L351.0,317.2 L353.0,317.5 L355.0,317.9 L357.0,318.3 L359.0,318.7 L361.0,319.0 L363.0,319.4 L365.0,319.8 L367.0,320.2 L369.0,320.6 L371.0,321.0 L373.0,321.4 L375.0,321.8 L377.0,322.2 L379.0,322.6 L381.0,323.1 L383.0,323.5 L385.0,323.9 L387.0,324.3 L389.0,324.8 L391.0,325.2 L393.0,325.6 L395.0,326.1 L397.0,326.5 L399.0,327.0 L401.0,327.4 L403.0,327.9 L405.0,328.3 L407.0,328.8 L409.0,329.2 L411.0,329.7 L413.0,330.2 L415.0,330.6 L417.0,331.1 L419.0,331.6 L421.0,332.0 L423.0,332.5 L425.0,333.0 L427.0,333.5 L429.0,333.9 L431.0,334.4 L433.0,334.9 L435.0,335.4 L437.0,335.9 L439.0,336.4 L441.0,336.9 L443.0,337.3 L445.0,337.8 L447.0,338.3 L449.0,338.8 L451.0,339.3 L453.0,339.8 L455.0,340.3 L457.0,340.8 L459.0,341.3 L461.0,341.8 L463.0,342.3 L465.0,342.8 L467.0,343.3 L469.0,343.8 L471.0,344.3 L473.0,344.8 L475.0,345.3 L477.0,345.7 L479.0,346.2 L481.0,346.7 L483.0,347.2 L485.0,347.7 L487.0,348.2 L489.0,348.7 L491.0,349.2 L493.0,349.7 L495.0,350.2 L497.0,350.7 L499.0,351.2 L501.0,351.7 L503.0,352.2 L505.0,352.7 L507.0,353.2 L509.0,353.7 L511.0,354.2 L513.0,354.6 L515.0,355.1 L517.0,355.6 L519.0,356.1 L521.0,356.6 L523.0,357.1 L525.0,357.6 L527.0,358.1 L529.0,358.6 L531.0,359.1 L533.0,359.6 L535.0,360.0 L537.0,360.5 L539.0,361.0 L541.0,361.5 L543.0,362.0 L545.0,362.5 L547.0,363.0 L549.0,363.5 L551.0,363.9 L553.0,364.4 L555.0,364.9 L557.0,365.4 L559.0,365.9 L561.0,366.4 L563.0,366.9 L565.0,367.3 L567.0,367.8 L569.0,368.3 L571.0,368.8 L573.0,369.3 L575.0,369.8 L577.0,370.3 L579.0,370.7 L581.0,371.2 L583.0,371.7 L585.0,372.2 L587.0,372.7 L589.0,373.1 L591.0,373.6 L593.0,374.1 L595.0,374.6 L597.0,375.1 L599.0,375.5 L601.0,376.0 L603.0,376.5 L605.0,377.0 L607.0,377.5 L609.0,377.9 L611.0,378.4 L613.0,378.9 L615.0,379.4 L617.0,379.8 L619.0,380.3 L621.0,380.8 L623.0,381.3 L625.0,381.7 L627.0,382.2 L629.0,382.7 L631.0,383.2 L633.0,383.6 L635.0,384.1 L637.0,384.6 L639.0,385.1 L641.0,385.5 L643.0,386.0 L645.0,386.5 L647.0,386.9 L649.0,387.4 L651.0,387.9 L653.0,388.4 L655.0,388.8 L657.0,389.3 L659.0,389.8 L661.0,390.2 L663.0,390.7 L665.0,391.2 L667.0,391.6 L669.0,392.1 L671.0,392.6 L673.0,393.0 L675.0,393.5 L677.0,393.9 L679.0,394.4 L681.0,394.9 L683.0,395.3 L685.0,395.8 L687.0,396.3 L689.0,396.7 L691.0,397.2 L693.0,397.6 L695.0,398.1 L697.0,398.6 L699.0,399.0 L701.0,399.5 L703.0,399.9 L705.0,400.4 L707.0,400.9 L709.0,401.3 L711.0,401.8 L713.0,402.2 L715.0,402.7 L717.0,403.1 L719.0,403.6 L721.0,404.0 L723.0,404.5 L725.0,405.0 L727.0,405.4 L729.0,405.9 L731.0,406.3 L733.0,406.8 L735.0,407.2 L737.0,407.7 L739.0,408.1 L741.0,408.6 L743.0,409.0 L745.0,409.5 L747.0,409.9 L749.0,410.4 L751.0,410.8 L753.0,411.2 L755.0,411.7 L757.0,412.1 L759.0,412.6 L761.0,413.0 L763.0,413.5 L765.0,413.9 L767.0,414.4 L769.0,414.8 L771.0,415.2 L773.0,415.7 L775.0,416.1 L777.0,416.6 L779.0,417.0 L781.0,417.4 L783.0,417.9 L785.0,418.3 L787.0,418.7 L789.0,419.2 L791.0,419.6 L793.0,420.1 L795.0,420.5 L797.0,420.9 L799.0,421.4 L801.0,421.8 L803.0,422.2 L805.0,422.7 L807.0,423.1 L809.0,423.5 L811.0,423.9 L813.0,424.4 L815.0,424.8 L817.0,425.2 L819.0,425.7 L821.0,426.1 L823.0,426.5 L825.0,426.9 L827.0,427.4 L829.0,427.8 L831.0,428.2 L833.0,428.6 L835.0,429.1 L837.0,429.5 L839.0,429.9 L841.0,430.3 L843.0,430.7 L845.0,431.2 L847.0,431.6 L849.0,432.0 L851.0,432.4 L853.0,432.8 L855.0,433.2 L857.0,433.7 L859.0,434.1 L861.0,434.5 L863.0,434.9 L865.0,435.3 L867.0,435.7 L869.0,436.2 L871.0,436.6 L873.0,437.0 L875.0,437.4 L877.0,437.8 L879.0,438.2 L881.0,438.6 L883.0,439.0 L885.0,439.4 L887.0,439.8 L889.0,440.3 L891.0,440.7 L893.0,441.1 L895.0,441.5 L897.0,441.9 L899.0,442.3 L901.0,442.7 L903.0,443.1 L905.0,443.5 L907.0,443.9 L909.0,444.3 L911.0,444.7 L913.0,445.1 L915.0,445.5 L917.0,445.9 L919.0,446.3 L921.0,446.7 L923.0,447.1 L925.0,447.5 L927.0,447.9 L929.0,448.3 L931.0,448.7 L933.0,449.1 L935.0,449.5 L937.0,449.9 L939.0,450.3 L941.0,450.7 L943.0,451.1 L945.0,451.5 L947.0,451.9 L949.0,452.3 L951.0,452.7 L953.0,453.1 L955.0,453.5 L957.0,453.9 L959.0,454.3 L961.0,454.6 L963.0,455.0 L965.0,455.4 L967.0,455.8 L969.0,456.2 L971.0,456.6 L973.0,457.0 L975.0,457.4 L977.0,457.8 L979.0,458.2 L981.0,458.6 L983.0,459.0 L985.0,459.3 L987.0,459.7 L989.0,460.1 L991.0,460.5 L993.0,460.9 L995.0,461.3 L997.0,461.7 L999.0,462.1 L1001.0,462.5 L1003.0,462.8 L1005.0,463.2 L1007.0,463.6 L1009.0,464.0 L1011.0,464.4 L1013.0,464.8 L1015.0,465.2 L1017.0,465.6 L1019.0,465.9 L1021.0,466.3 L1023.0,466.7 L1025.0,467.1 L1027.0,467.5 L1029.0,467.9 L1031.0,468.3 L1033.0,468.6 L1035.0,469.0 L1037.0,469.4 L1039.0,469.8 L1041.0,470.2 L1043.0,470.6 L1045.0,470.9 L1047.0,471.3 L1049.0,471.7 L1051.0,472.1 L1053.0,472.5 L1055.0,472.9 L1057.0,473.3 L1059.0,473.6 L1061.0,474.0 L1063.0,474.4 L1065.0,474.8 L1067.0,475.2 L1069.0,475.6 L1071.0,475.9 L1073.0,476.3 L1075.0,476.7 L1077.0,477.1 L1079.0,477.5 L1081.0,477.9 L1083.0,478.2 L1085.0,478.6 L1087.0,479.0 L1089.0,479.4 L1091.0,479.8 L1093.0,480.2 L1095.0,480.5 L1097.0,480.9 L1099.0,481.3 L1101.0,481.7 L1103.0,482.1 L1105.0,482.5 L1107.0,482.8 L1109.0,483.2 L1111.0,483.6 L1113.0,484.0 L1115.0,484.4 L1117.0,484.8 L1119.0,485.1 L1121.0,485.5 L1123.0,485.9 L1125.0,486.3 L1127.0,486.7 L1129.0,487.1 L1131.0,487.4 L1133.0,487.8 L1135.0,488.2 L1137.0,488.6 L1139.0,489.0 L1141.0,489.4 L1143.0,489.7 L1145.0,490.1 L1147.0,490.5 L1149.0,490.9 L1151.0,491.3 L1153.0,491.7 L1155.0,492.1 L1157.0,492.4 L1159.0,492.8 L1161.0,493.2 L1163.0,493.6 L1165.0,494.0 L1167.0,494.4 L1169.0,494.8 L1171.0,495.2 L1173.0,495.5 L1175.0,495.9 L1177.0,496.3 L1179.0,496.7 L1181.0,497.1 L1183.0,497.5 L1185.0,497.9 L1187.0,498.3 L1189.0,498.6 L1191.0,499.0 L1193.0,499.4 L1195.0,499.8 L1197.0,500.2 L1199.0,500.6 L1201.0,501.0 L1203.0,501.4 L1205.0,501.8 L1207.0,502.2 L1209.0,502.5 L1211.0,502.9 L1213.0,503.3 L1215.0,503.7 L1217.0,504.1 L1219.0,504.5 L1221.0,504.9 L1223.0,505.3 L1225.0,505.7 L1227.0,506.1 L1229.0,506.5 L1231.0,506.9 L1233.0,507.3 L1235.0,507.7 L1237.0,508.1 L1239.0,508.5 L1241.0,508.9 L1243.0,509.2 L1245.0,509.6 L1247.0,510.0 L1249.0,510.4 L1251.0,510.8 L1253.0,511.2 L1255.0,511.6 L1257.0,512.0 L1259.0,512.4 L1261.0,512.8 L1263.0,513.2 L1265.0,513.6 L1267.0,514.0 L1269.0,514.4 L1271.0,514.8 L1273.0,515.3 L1275.0,515.7 L1277.0,516.1 L1279.0,516.5 L1281.0,516.9 L1283.0,517.3 L1285.0,517.7 L1287.0,518.1 L1289.0,518.5 L1291.0,518.9 L1293.0,519.3 L1295.0,519.7 L1297.0,520.1 L1299.0,520.5 L1301.0,520.9 L1303.0,521.4 L1305.0,521.8 L1307.0,522.2 L1309.0,522.6 L1311.0,523.0 L1313.0,523.4 L1315.0,523.8 L1317.0,524.3 L1319.0,524.7 L1321.0,525.1 L1323.0,525.5 L1325.0,525.9 L1327.0,526.4 L1329.0,526.8 L1331.0,527.2 L1333.0,527.7 L1335.0,528.1 L1337.0,528.6 L1339.0,529.0 L1341.0,529.5 L1343.0,529.9 L1345.0,530.4 L1347.0,530.8 L1349.0,531.3 L1351.0,531.8 L1353.0,532.2 L1355.0,532.7 L1357.0,533.2 L1359.0,533.7 L1361.0,534.2 L1363.0,534.7 L1365.0,535.2 L1367.0,535.7 L1369.0,536.2 L1371.0,536.7 L1373.0,537.2 L1375.0,537.7 L1377.0,538.3 L1379.0,538.8 L1381.0,539.4 L1383.0,539.9 L1385.0,540.5 L1387.0,541.0 L1389.0,541.6 L1391.0,542.2 L1393.0,542.8 L1395.0,543.4 L1397.0,544.0 L1399.0,544.6 L1401.0,545.2 L1403.0,545.8 L1405.0,546.5 L1407.0,547.1 L1409.0,547.8 L1411.0,548.4 L1413.0,549.1 L1415.0,549.7 L1417.0,550.4 L1419.0,551.1 L1421.0,551.8 L1423.0,552.5 L1425.0,553.2 L1427.0,553.9 L1429.0,554.6 L1431.0,555.3 L1433.0,556.1 L1435.0,556.8 L1437.0,557.5 L1439.0,558.3 L1441.0,559.0 L1443.0,559.8 L1445.0,560.6 L1447.0,561.3 L1449.0,562.1 L1451.0,562.9 L1453.0,563.6 L1455.0,564.4 L1457.0,565.2 L1459.0,566.0 L1461.0,566.8 L1463.0,567.6 L1465.0,568.4 L1467.0,569.2 L1469.0,570.0 L1471.0,570.9 L1473.0,571.7 L1475.0,572.5 L1477.0,573.4 L1479.0,574.2 L1481.0,575.0 L1483.0,575.9 L1485.0,576.7 L1487.0,577.6 L1489.0,578.5 L1491.0,579.3 L1493.0,580.2 L1495.0,581.1 L1497.0,582.0 L1499.0,582.9 L1501.0,583.8 L1503.0,584.7 L1505.0,585.6 L1507.0,586.5 L1509.0,587.4 L1511.0,588.3 L1513.0,589.2 L1515.0,590.1 L1517.0,591.1 L1519.0,592.0 L1521.0,592.9 L1523.0,593.9 L1525.0,594.8 L1527.0,595.8 L1529.0,596.8 L1531.0,597.7 L1533.0,598.7 L1535.0,599.7 L1537.0,600.6 L1539.0,601.6 L1541.0,602.6 L1543.0,603.6 L1545.0,604.6 L1547.0,605.6 L1549.0,606.6 L1551.0,607.6 L1553.0,608.7 L1555.0,609.7 L1557.0,610.7 L1559.0,611.7 L1561.0,612.8 L1563.0,613.8 L1565.0,614.9 L1567.0,615.9 L1569.0,617.0 L1571.0,618.0 L1573.0,619.1 L1575.0,620.2 L1577.0,621.3 L1579.0,622.4 L1581.0,623.4 L1583.0,624.5 L1585.0,625.6 L1587.0,626.7 L1589.0,627.8 L1591.0,629.0 L1593.0,630.1 L1595.0,631.2 L1597.0,632.3 L1599.0,633.5 L1601.0,634.6 L1603.0,635.7 L1605.0,636.9 L1607.0,638.0 L1609.0,639.2 L1611.0,640.4 L1613.0,641.5 L1615.0,642.7 L1617.0,643.9 L1619.0,645.1 L1621.0,646.3 L1623.0,647.5 L1625.0,648.7 L1627.0,649.9 L1629.0,651.1 L1631.0,652.3 L1633.0,653.5 L1635.0,654.7 L1637.0,655.9 L1639.0,657.2 L1641.0,658.4 L1643.0,659.6 L1645.0,660.9 L1647.0,662.1 L1649.0,663.3 L1651.0,664.6 L1653.0,665.8 L1655.0,667.1 L1657.0,668.3 L1659.0,669.6 L1661.0,670.8 L1663.0,672.1 L1665.0,673.3 L1667.0,674.6 L1669.0,675.8 L1671.0,677.1 L1673.0,678.3 L1675.0,679.6 L1677.0,680.9 L1679.0,682.1 L1681.0,683.4 L1683.0,684.6 L1685.0,685.9 L1687.0,687.1 L1689.0,688.4 L1691.0,689.6 L1693.0,690.9 L1695.0,692.1 L1697.0,693.4 L1699.0,694.6 L1701.0,695.8 L1703.0,697.1 L1705.0,698.3 L1707.0,699.5 L1709.0,700.8 L1711.0,702.0 L1713.0,703.2 L1715.0,704.4 L1717.0,705.6 L1719.0,706.9 L1721.0,708.1 L1723.0,709.3 L1725.0,710.5 L1727.0,711.7 L1729.0,712.8 L1731.0,714.0 L1733.0,715.2 L1735.0,716.4 L1737.0,717.5 L1739.0,718.7 L1741.0,719.9 L1743.0,721.0 L1745.0,722.2 L1747.0,723.3 L1749.0,724.4 L1751.0,725.5 L1753.0,726.7 L1755.0,727.8 L1757.0,728.9 L1759.0,730.0 L1761.0,731.0 L1763.0,732.1 L1765.0,733.2 L1767.0,734.2 L1769.0,735.3 L1771.0,736.3 L1773.0,737.4 L1775.0,738.4 L1777.0,739.4 L1779.0,740.4 L1781.0,741.4 L1783.0,742.4 L1785.0,743.4 L1787.0,744.4 L1789.0,745.3 L1791.0,746.3 L1793.0,747.2 L1795.0,748.1 L1797.0,749.0 L1799.0,749.9 L1801.0,750.8 L1803.0,751.7 L1805.0,752.6 L1807.0,753.5 L1809.0,754.3 L1811.0,755.2 L1813.0,756.0 L1815.0,756.8 L1817.0,757.6 L1819.0,758.4 L1821.0,759.2 L1823.0,760.0 L1825.0,760.8 L1827.0,761.6 L1829.0,762.3 L1831.0,763.1 L1833.0,763.8 L1835.0,764.5 L1837.0,765.2 L1839.0,765.9 L1841.0,766.6 L1843.0,767.3 L1845.0,768.0 L1847.0,768.7 L1849.0,769.3 L1851.0,770.0 L1853.0,770.6 L1855.0,771.2 L1857.0,771.9 L1859.0,772.5 L1861.0,773.1 L1863.0,773.6 L1865.0,774.2 L1867.0,774.8 L1869.0,775.4 L1871.0,775.9 L1873.0,776.5 L1875.0,777.0 L1877.0,777.5 L1879.0,778.0 L1881.0,778.5 L1883.0,779.0 L1885.0,779.5 L1887.0,780.0 L1889.0,780.4 L1891.0,780.9 L1893.0,781.4 L1895.0,781.8 L1897.0,782.2 L1899.0,782.6 L1901.0,783.1 L1903.0,783.5 L1905.0,783.8 L1907.0,784.2 L1909.0,784.6 L1911.0,785.0 L1913.0,785.3 L1915.0,785.7 L1917.0,786.0 L1919.0,786.3 L1921.0,786.7 L1923.0,787.0 L1925.0,787.3 L1927.0,787.6 L1929.0,787.8 L1931.0,788.1 L1933.0,788.4 L1935.0,788.6 L1937.0,788.9 L1939.0,789.1 L1941.0,789.4 L1943.0,789.6 L1945.0,789.8 L1947.0,790.0 L1949.0,790.2 L1951.0,790.4 L1953.0,790.6 L1955.0,790.7 L1957.0,790.9 L1959.0,791.0 L1961.0,791.2 L1963.0,791.3 L1965.0,791.5 L1967.0,791.6 L1969.0,791.7 L1971.0,791.8 L1973.0,791.9 L1975.0,792.0 L1977.0,792.1 L1979.0,792.2 L1981.0,792.2 L1983.0,792.3 L1985.0,792.3 L1987.0,792.3 L1989.0,792.3 L1991.0,792.3 L1993.0,792.3 L1995.0,792.3 L1997.0,792.3 L1999.0,792.3 L2001.0,792.3 L2003.0,792.3 L2005.0,792.3 L2007.0,792.3 L2009.0,792.3 L2011.0,792.3 L2013.0,792.3 L2015.0,792.3 L2017.0,792.3 L2019.0,792.3 L2021.0,792.3 L2023.0,792.3 L2025.0,792.3 L2027.0,792.3 L2029.0,792.3 L2031.0,792.3 L2033.0,792.3 L2035.0,792.3 L2037.0,792.3 L2039.0,792.3 L2041.0,792.3 L2043.0,792.3 L2045.0,792.3 L2047.0,792.3 L2049.0,792.3 L2051.0,792.3 L2053.0,792.3 L2055.0,792.3 L2057.0,792.3 L2059.0,792.3 L2061.0,792.3 L2063.0,792.3 L2065.0,792.3 L2067.0,792.3 L2069.0,792.3 L2071.0,792.3 L2073.0,792.3 L2075.0,792.3 L2077.0,792.3 L2079.0,792.3 L2081.0,792.3 L2083.0,792.3 L2085.0,792.3 L2087.0,792.3 L2089.0,792.3 L2091.0,792.3 L2093.0,792.3 L2095.0,792.3 L2097.0,792.3 L2099.0,792.3 L2101.0,792.3 L2103.0,792.3 L2105.0,792.3 L2107.0,792.3 L2109.0,792.3 L2111.0,792.3 L2113.0,792.3 L2115.0,792.3 L2117.0,792.3 L2119.0,792.3 L2121.0,792.3 L2123.0,792.3 L2125.0,792.3 L2127.0,792.3 L2129.0,792.3 L2131.0,792.3 L2133.0,792.3 L2135.0,792.3" stroke="#0000ff" stroke-linecap="square"/>
<path d="M241.0,306.1 L243.0,306.1 L245.0,306.1 L247.0,306.1 L249.0,306.2 L251.0,306.2 L253.0,306.3 L255.0,306.3 L257.0,306.4 L259.0,306.4 L261.0,306.5 L263.0,306.6 L265.0,306.7 L267.0,306.8 L269.0,306.9 L271.0,307.1 L273.0,307.2 L275.0,307.3 L277.0,307.5 L279.0,307.6 L281.0,307.8 L283.0,307.9 L285.0,308.1 L287.0,308.3 L289.0,308.5 L291.0,308.7 L293.0,308.9 L295.0,309.1 L297.0,309.3 L299.0,309.5 L301.0,309.7 L303.0,309.9 L305.0,310.2 L307.0,310.4 L309.0,310.7 L311.0,310.9 L313.0,311.2 L315.0,311.5 L317.0,311.7 L319.0,312.0 L321.0,312.3 L323.0,312.6 L325.0,312.9 L327.0,313.2 L329.0,313.5 L331.0,313.8 L333.0,314.1 L335.0,314.4 L337.0,314.8 L339.0,315.1 L341.0,315.4 L343.0,315.8 L345.0,316.1 L347.0,316.5 L349.0,316.8 L351.0,317.2 L353.0,317.5 L355.0,317.9 L357.0,318.3 L359.0,318.7 L361.0,319.0 L363.0,319.4 L365.0,319.8 L367.0,320.2 L369.0,320.6 L371.0,321.0 L373.0,321.4 L375.0,321.8 L377.0,322.2 L379.0,322.6 L381.0,323.1 L383.0,323.5 L385.0,323.9 L387.0,324.3 L389.0,324.8 L391.0,325.2 L393.0,325.6 L395.0,326.1 L397.0,326.5 L399.0,327.0 L401.0,327.4 L403.0,327.9 L405.0,328.3 L407.0,328.8 L409.0,329.2 L411.0,329.7 L413.0,330.2 L415.0,330.6 L417.0,331.1 L419.0,331.6 L421.0,332.0 L423.0,332.5 L425.0,333.2 L427.0,333.9 L429.0,334.7 L431.0,335.4 L433.0,336.1 L435.0,336.9 L437.0,337.6 L439.0,338.3 L441.0,339.0 L443.0,339.8 L445.0,340.5 L447.0,341.2 L449.0,341.9 L451.0,342.7 L453.0,343.4 L455.0,344.1 L457.0,344.8 L459.0,345.6 L461.0,346.3 L463.0,347.0 L465.0,347.7 L467.0,348.4 L469.0,349.1 L471.0,349.9 L473.0,350.6 L475.0,351.3 L477.0,352.0 L479.0,352.7 L481.0,353.4 L483.0,354.2 L485.0,354.9 L487.0,355.6 L489.0,356.3 L491.0,357.0 L493.0,357.7 L495.0,358.4 L497.0,359.1 L499.0,359.8 L501.0,360.5 L503.0,361.2 L505.0,361.9 L507.0,362.6 L509.0,363.4 L511.0,364.1 L513.0,364.8 L515.0,365.5 L517.0,366.2 L519.0,366.9 L521.0,367.6 L523.0,368.3 L525.0,369.0 L527.0,369.7 L529.0,370.3 L531.0,371.0 L533.0,371.7 L535.0,372.4 L537.0,373.1 L539.0,373.8 L541.0,374.5 L543.0,375.2 L545.0,375.9 L547.0,376.6 L549.0,377.3 L551.0,378.0 L553.0,378.7 L555.0,379.3 L557.0,380.0 L559.0,380.7 L561.0,381.4 L563.0,382.1 L565.0,382.8 L567.0,383.5 L569.0,384.1 L571.0,384.8 L573.0,385.5 L575.0,386.2 L577.0,386.9 L579.0,387.5 L581.0,388.2 L583.0,388.9 L585.0,389.6 L587.0,390.3 L589.0,390.9 L591.0,391.6 L593.0,392.3 L595.0,393.0 L597.0,393.6 L599.0,394.3 L601.0,395.0 L603.0,395.7 L605.0,396.3 L607.0,397.0 L609.0,397.7 L611.0,398.3 L613.0,399.0 L615.0,399.7 L617.0,400.3 L619.0,401.0 L621.0,401.7 L623.0,402.3 L625.0,403.0 L627.0,403.7 L629.0,404.3 L631.0,405.0 L633.0,405.6 L635.0,406.3 L637.0,407.0 L639.0,407.6 L641.0,408.3 L643.0,408.9 L645.0,409.6 L647.0,410.3 L649.0,410.9 L651.0,411.6 L653.0,412.2 L655.0,412.9 L657.0,413.5 L659.0,414.2 L661.0,414.8 L663.0,415.5 L665.0,416.1 L667.0,416.8 L669.0,417.4 L671.0,418.1 L673.0,418.7 L675.0,419.4 L677.0,420.0 L679.0,420.7 L681.0,421.3 L683.0,422.0 L685.0,422.6 L687.0,423.3 L689.0,423.9 L691.0,424.6 L693.0,425.2 L695.0,425.8 L697.0,426.5 L699.0,427.1 L701.0,427.8 L703.0,428.4 L705.0,429.0 L707.0,429.7 L709.0,430.3 L711.0,430.9 L713.0,431.6 L715.0,432.2 L717.0,432.9 L719.0,433.5 L721.0,434.1 L723.0,434.8 L725.0,435.4 L727.0,436.0 L729.0,436.6 L731.0,437.3 L733.0,437.9 L735.0,438.5 L737.0,439.2 L739.0,439.8 L741.0,440.4 L743.0,441.0 L745.0,441.7 L747.0,442.3 L749.0,442.9 L751.0,443.5 L753.0,444.2 L755.0,444.8 L757.0,445.4 L759.0,446.0 L761.0,446.7 L763.0,447.3 L765.0,447.9 L767.0,448.5 L769.0,449.1 L771.0,449.7 L773.0,450.4 L775.0,451.0 L777.0,451.6 L779.0,452.2 L781.0,452.8 L783.0,453.4 L785.0,454.1 L787.0,454.7 L789.0,455.3 L791.0,455.9 L793.0,456.5 L795.0,457.1 L797.0,457.7 L799.0,458.3 L801.0,458.9 L803.0,459.5 L805.0,460.1 L807.0,460.8 L809.0,461.4 L811.0,462.0 L813.0,462.6 L815.0,463.2 L817.0,463.8 L819.0,464.4 L821.0,465.0 L823.0,465.6 L825.0,466.2 L827.0,466.8 L829.0,467.4 L831.0,468.0 L833.0,468.6 L835.0,469.2 L837.0,469.8 L839.0,470.4 L841.0,471.0 L843.0,471.6 L845.0,472.2 L847.0,472.8 L849.0,473.3 L851.0,473.9 L853.0,474.5 L855.0,475.1 L857.0,475.7 L859.0,476.3 L861.0,476.9 L863.0,477.5 L865.0,478.1 L867.0,478.7 L869.0,479.2 L871.0,479.8 L873.0,480.4 L875.0,481.0 L877.0,481.6 L879.0,482.2 L881.0,482.8 L883.0,483.3 L885.0,483.9 L887.0,484.5 L889.0,485.1 L891.0,485.7 L893.0,486.2 L895.0,486.8 L897.0,487.4 L899.0,488.0 L901.0,488.6 L903.0,489.1 L905.0,489.7 L907.0,490.3 L909.0,490.9 L911.0,491.4 L913.0,492.0 L915.0,492.6 L917.0,493.2 L919.0,493.7 L921.0,494.3 L923.0,494.9 L925.0,495.5 L927.0,496.0 L929.0,496.6 L931.0,497.2 L933.0,497.7 L935.0,498.3 L937.0,498.9 L939.0,499.4 L941.0,500.0 L943.0,500.6 L945.0,501.1 L947.0,501.7 L949.0,502.3 L951.0,502.8 L953.0,503.4 L955.0,503.9 L957.0,504.5 L959.0,505.1 L961.0,505.6 L963.0,506.2 L965.0,506.7 L967.0,507.3 L969.0,507.9 L971.0,508.4 L973.0,509.0 L975.0,509.5 L977.0,510.1 L979.0,510.6 L981.0,511.2 L983.0,511.7 L985.0,512.3 L987.0,512.9 L989.0,513.4 L991.0,514.0 L993.0,514.5 L995.0,515.1 L997.0,515.6 L999.0,516.2 L1001.0,516.7 L1003.0,517.3 L1005.0,517.8 L1007.0,518.3 L1009.0,518.9 L1011.0,519.4 L1013.0,520.0 L1015.0,520.5 L1017.0,521.1 L1019.0,521.6 L1019.5,521.8" stroke="#ff00ff" stroke-dasharray="22.07 9.54" stroke-dashoffset="1.83"/>
<path d="M1019.5,521.8 L1019.5,521.8 L1019.5,521.8 L1307.0,521.8" stroke="#ff00ff" stroke-dasharray="22.07 9.54" stroke-dashoffset="21.94"/>
<path d="M1307.0,521.8 L1307.0,521.8 L1309.0,522.6 L1311.0,523.0 L1313.0,523.4 L1315.0,523.8 L1317.0,524.3 L1319.0,524.7 L1321.0,525.1 L1323.0,525.5 L1325.0,525.9 L1327.0,526.4 L1329.0,526.8 L1331.0,527.2 L1333.0,527.7 L1335.0,528.1 L1337.0,528.6 L1339.0,529.0 L1341.0,529.5 L1343.0,529.9 L1345.0,530.4 L1347.0,530.8 L1349.0,531.3 L1351.0,531.8 L1353.0,532.2 L1355.0,532.7 L1357.0,533.2 L1359.0,533.7 L1361.0,534.2 L1363.0,534.7 L1365.0,535.2 L1367.0,535.7 L1369.0,536.2 L1371.0,536.7 L1373.0,537.2 L1375.0,537.7 L1377.0,538.3 L1379.0,538.8 L1381.0,539.4 L1383.0,539.9 L1385.0,540.5 L1387.0,541.0 L1389.0,541.6 L1391.0,542.2 L1393.0,542.8 L1395.0,543.4 L1397.0,544.0 L1399.0,544.6 L1401.0,545.2 L1403.0,545.8 L1405.0,546.5 L1407.0,547.1 L1409.0,547.8 L1411.0,548.4 L1413.0,549.1 L1415.0,549.7 L1417.0,550.4 L1419.0,551.1 L1421.0,551.8 L1423.0,552.5 L1425.0,553.2 L1427.0,553.9 L1429.0,554.6 L1431.0,555.3 L1433.0,556.1 L1435.0,556.8 L1437.0,557.5 L1439.0,558.3 L1441.0,559.0 L1443.0,559.8 L1445.0,560.6 L1447.0,561.3 L1449.0,562.1 L1451.0,562.9 L1453.0,563.6 L1455.0,564.4 L1457.0,565.2 L1459.0,566.0 L1461.0,566.8 L1463.0,567.6 L1465.0,568.4 L1467.0,569.2 L1469.0,570.0 L1471.0,570.9 L1473.0,571.7 L1475.0,572.5 L1477.0,573.4 L1479.0,574.2 L1481.0,575.0 L1483.0,575.9 L1485.0,576.7 L1487.0,577.6 L1489.0,578.5 L1491.0,579.3 L1493.0,580.2 L1495.0,581.1 L1497.0,582.0 L1499.0,582.9 L1501.0,583.8 L1503.0,584.7 L1505.0,585.6 L1507.0,586.5 L1509.0,587.4 L1511.0,588.3 L1513.0,589.2 L1515.0,590.1 L1517.0,591.1 L1519.0,592.0 L1521.0,592.9 L1523.0,593.9 L1525.0,594.8 L1527.0,595.8 L1529.0,596.8 L1531.0,597.7 L1533.0,598.7 L1535.0,599.7 L1537.0,600.6 L1539.0,601.6 L1541.0,602.6 L1543.0,603.6 L1545.0,604.6 L1547.0,605.6 L1549.0,606.6 L1551.0,607.6 L1553.0,608.7 L1555.0,609.7 L1557.0,610.7 L1559.0,611.7 L1561.0,612.8 L1563.0,613.8 L1565.0,614.9 L1567.0,615.9 L1569.0,617.0 L1571.0,618.0 L1573.0,619.1 L1575.0,620.2 L1577.0,621.3 L1579.0,622.4 L1581.0,623.4 L1583.0,624.5 L1585.0,625.6 L1587.0,626.7 L1589.0,627.8 L1591.0,629.0 L1593.0,630.1 L1595.0,631.2 L1597.0,632.3 L1599.0,633.5 L1601.0,634.6 L1603.0,635.7 L1605.0,636.9 L1607.0,638.0 L1609.0,639.2 L1611.0,640.4 L1613.0,641.5 L1615.0,642.7 L1617.0,643.9 L1619.0,645.1 L1621.0,646.3 L1623.0,647.5 L1625.0,648.7 L1627.0,649.9 L1629.0,651.1 L1631.0,652.3 L1633.0,653.5 L1635.0,654.7 L1637.0,655.9 L1639.0,657.2 L1641.0,658.4 L1643.0,659.6 L1645.0,660.9 L1647.0,662.1 L1649.0,663.3 L1651.0,664.6 L1653.0,665.8 L1655.0,667.1 L1657.0,668.3 L1659.0,669.6 L1661.0,670.8 L1663.0,672.1 L1665.0,673.3 L1667.0,674.6 L1669.0,675.8 L1671.0,677.1 L1673.0,678.3 L1675.0,679.6 L1677.0,680.9 L1679.0,682.1 L1681.0,683.4 L1683.0,684.6 L1685.0,685.9 L1687.0,687.1 L1689.0,688.4 L1691.0,689.6 L1693.0,690.9 L1695.0,692.1 L1697.0,693.4 L1699.0,694.6 L1701.0,695.8 L1703.0,697.1 L1705.0,698.3 L1707.0,699.5 L1709.0,700.8 L1711.0,702.0 L1713.0,703.2 L1715.0,704.4 L1717.0,705.6 L1719.0,706.9 L1721.0,708.1 L1723.0,709.3 L1725.0,710.5 L1727.0,711.7 L1729.0,712.8 L1731.0,714.0 L1733.0,715.2 L1735.0,716.4 L1737.0,717.5 L1739.0,718.7 L1741.0,719.9 L1743.0,721.0 L1745.0,722.2 L1747.0,723.3 L1749.0,724.4 L1751.0,725.5 L1753.0,726.7 L1755.0,727.8 L1757.0,728.9 L1759.0,730.0 L1761.0,731.0 L1763.0,732.1 L1765.0,733.2 L1767.0,734.2 L1769.0,735.3 L1771.0,736.3 L1773.0,737.4 L1775.0,738.4 L1777.0,739.4 L1779.0,740.4 L1781.0,741.4 L1783.0,742.4 L1785.0,743.4 L1787.0,744.4 L1789.0,745.3 L1791.0,746.3 L1793.0,747.2 L1795.0,748.1 L1797.0,749.0 L1799.0,749.9 L1801.0,750.8 L1803.0,751.7 L1805.0,752.6 L1807.0,753.5 L1809.0,754.3 L1811.0,755.2 L1813.0,756.0 L1815.0,756.8 L1817.0,757.6 L1819.0,758.4 L1821.0,759.2 L1823.0,760.0 L1825.0,760.8 L1827.0,761.6 L1829.0,762.3 L1831.0,763.1 L1833.0,763.8 L1835.0,764.5 L1837.0,765.2 L1839.0,765.9 L1841.0,766.6 L1843.0,767.3 L1845.0,768.0 L1847.0,768.7 L1849.0,769.3 L1851.0,770.0 L1853.0,770.6 L1855.0,771.2 L1857.0,771.9 L1859.0,772.5 L1861.0,773.1 L1863.0,773.6 L1865.0,774.2 L1867.0,774.8 L1869.0,775.4 L1871.0,775.9 L1873.0,776.5 L1875.0,777.0 L1877.0,777.5 L1879.0,778.0 L1881.0,778.5 L1883.0,779.0 L1885.0,779.5 L1887.0,780.0 L1889.0,780.4 L1891.0,780.9 L1893.0,781.4 L1895.0,781.8 L1897.0,782.2 L1899.0,782.6 L1901.0,783.1 L1903.0,783.5 L1905.0,783.8 L1907.0,784.2 L1909.0,784.6 L1911.0,785.0 L1913.0,785.3 L1915.0,785.7 L1917.0,786.0 L1919.0,786.3 L1921.0,786.7 L1923.0,787.0 L1925.0,787.3 L1927.0,787.6 L1929.0,787.8 L1931.0,788.1 L1933.0,788.4 L1935.0,788.6 L1937.0,788.9 L1939.0,789.1 L1941.0,789.4 L1943.0,789.6 L1945.0,789.8 L1947.0,790.0 L1949.0,790.2 L1951.0,790.4 L1953.0,790.6 L1955.0,790.7 L1957.0,790.9 L1959.0,791.0 L1961.0,791.2 L1963.0,791.3 L1965.0,791.5 L1967.0,791.6 L1969.0,791.7 L1971.0,791.8 L1973.0,791.9 L1975.0,792.0 L1977.0,792.1 L1979.0,792.2 L1981.0,792.2 L1983.0,792.3 L1985.0,792.3 L1987.0,792.3 L1989.0,792.3 L1991.0,792.3 L1993.0,792.3 L1995.0,792.3 L1997.0,792.3 L1999.0,792.3 L2001.0,792.3 L2003.0,792.3 L2005.0,792.3 L2007.0,792.3 L2009.0,792.3 L2011.0,792.3 L2013.0,792.3 L2015.0,792.3 L2017.0,792.3 L2019.0,792.3 L2021.0,792.3 L2023.0,792.3 L2025.0,792.3 L2027.0,792.3 L2029.0,792.3 L2031.0,792.3 L2033.0,792.3 L2035.0,792.3 L2037.0,792.3 L2039.0,792.3 L2041.0,792.3 L2043.0,792.3 L2045.0,792.3 L2047.0,792.3 L2049.0,792.3 L2051.0,792.3 L2053.0,792.3 L2055.0,792.3 L2057.0,792.3 L2059.0,792.3 L2061.0,792.3 L2063.0,792.3 L2065.0,792.3 L2067.0,792.3 L2069.0,792.3 L2071.0,792.3 L2073.0,792.3 L2075.0,792.3 L2077.0,792.3 L2079.0,792.3 L2081.0,792.3 L2083.0,792.3 L2085.0,792.3 L2087.0,792.3 L2089.0,792.3 L2091.0,792.3 L2093.0,792.3 L2095.0,792.3 L2097.0,792.3 L2099.0,792.3 L2101.0,792.3 L2103.0,792.3 L2105.0,792.3 L2107.0,792.3 L2109.0,792.3 L2111.0,792.3 L2113.0,792.3 L2115.0,792.3 L2117.0,792.3 L2119.0,792.3 L2121.0,792.3 L2123.0,792.3 L2125.0,792.3 L2127.0,792.3 L2129.0,792.3 L2131.0,792.3 L2133.0,792.3 L2135.0,792.3" stroke="#ff00ff" stroke-dasharray="22.07 9.54" stroke-dashoffset="26.54"/>
<path d="M241.0,305.9 L1340.0,305.9 L1342.0,305.9 L1344.0,305.9 L1346.0,305.9 L1348.0,305.9 L1350.0,305.9 L1352.0,305.9 L1354.0,306.0 L1356.0,306.1 L1358.0,306.2 L1360.0,306.3 L1362.0,306.4 L1364.0,306.5 L1366.0,306.6 L1368.0,306.7 L1370.0,306.8 L1372.0,307.0 L1374.0,307.1 L1376.0,307.2 L1378.0,307.4 L1380.0,307.5 L1382.0,307.7 L1384.0,307.9 L1386.0,308.0 L1388.0,308.2 L1390.0,308.4 L1392.0,308.6 L1394.0,308.8 L1396.0,309.0 L1398.0,309.2 L1400.0,309.4 L1402.0,309.6 L1404.0,309.8 L1406.0,310.0 L1408.0,310.3 L1410.0,310.5 L1412.0,310.8 L1414.0,311.0 L1416.0,311.3 L1418.0,311.5 L1420.0,311.8 L1422.0,312.1 L1424.0,312.4 L1426.0,312.7 L1428.0,313.0 L1430.0,313.3 L1432.0,313.6 L1434.0,313.9 L1436.0,314.2 L1438.0,314.6 L1440.0,314.9 L1442.0,315.2 L1444.0,315.6 L1446.0,315.9 L1448.0,316.3 L1450.0,316.7 L1452.0,317.1 L1454.0,317.5 L1456.0,317.9 L1458.0,318.3 L1460.0,318.7 L1462.0,319.1 L1464.0,319.5 L1466.0,319.9 L1468.0,320.4 L1470.0,320.8 L1472.0,321.3 L1474.0,321.8 L1476.0,322.2 L1478.0,322.7 L1480.0,323.2 L1482.0,323.7 L1484.0,324.2 L1486.0,324.7 L1488.0,325.2 L1490.0,325.8 L1492.0,326.3 L1494.0,326.8 L1496.0,327.4 L1498.0,328.0 L1500.0,328.5 L1502.0,329.1 L1504.0,329.7 L1506.0,330.3 L1508.0,330.9 L1510.0,331.5 L1512.0,332.1 L1514.0,332.8 L1516.0,333.4 L1518.0,334.1 L1520.0,334.7 L1522.0,335.4 L1524.0,336.1 L1526.0,336.8 L1528.0,337.4 L1530.0,338.2 L1532.0,338.9 L1534.0,339.6 L1536.0,340.3 L1538.0,341.1 L1540.0,341.8 L1542.0,342.6 L1544.0,343.3 L1546.0,344.1 L1548.0,344.9 L1550.0,345.7 L1552.0,346.5 L1554.0,347.3 L1556.0,348.1 L1558.0,348.9 L1560.0,349.8 L1562.0,350.6 L1564.0,351.5 L1566.0,352.3 L1568.0,353.2 L1570.0,354.0 L1572.0,354.9 L1574.0,355.8 L1576.0,356.7 L1578.0,357.6 L1580.0,358.5 L1582.0,359.4 L1584.0,360.3 L1586.0,361.3 L1588.0,362.2 L1590.0,363.1 L1592.0,364.1 L1594.0,365.0 L1596.0,366.0 L1598.0,367.0 L1600.0,367.9 L1602.0,368.9 L1604.0,369.9 L1606.0,370.9 L1608.0,371.9 L1610.0,372.9 L1612.0,373.9 L1614.0,374.9 L1616.0,375.9 L1618.0,376.9 L1620.0,377.9 L1622.0,378.9 L1624.0,380.0 L1626.0,381.0 L1628.0,382.0 L1630.0,383.1 L1632.0,384.1 L1634.0,385.2 L1636.0,386.2 L1638.0,387.3 L1640.0,388.4 L1642.0,389.4 L1644.0,390.5 L1646.0,391.6 L1648.0,392.7 L1650.0,393.7 L1652.0,394.8 L1654.0,395.9 L1656.0,397.0 L1658.0,398.1 L1660.0,399.2 L1662.0,400.3 L1664.0,401.4 L1666.0,402.5 L1668.0,403.6 L1670.0,404.8 L1672.0,405.9 L1674.0,407.0 L1676.0,408.1 L1678.0,409.3 L1680.0,410.4 L1682.0,411.6 L1684.0,412.7 L1686.0,413.9 L1688.0,415.0 L1690.0,416.2 L1692.0,417.4 L1694.0,418.5 L1696.0,419.7 L1698.0,420.9 L1700.0,422.1 L1702.0,423.3 L1704.0,424.5 L1706.0,425.7 L1708.0,426.9 L1710.0,428.1 L1712.0,429.3 L1714.0,430.6 L1716.0,431.8 L1718.0,433.1 L1720.0,434.3 L1722.0,435.5 L1724.0,436.8 L1726.0,438.0 L1728.0,439.3 L1730.0,440.5 L1732.0,441.8 L1734.0,443.0 L1736.0,444.2 L1738.0,445.4 L1740.0,446.6 L1742.0,447.8 L1744.0,449.0 L1746.0,450.2 L1748.0,451.3 L1750.0,452.5 L1752.0,453.6 L1754.0,454.7 L1756.0,455.8 L1758.0,456.9 L1760.0,458.0 L1762.0,459.1 L1764.0,460.1 L1766.0,461.1 L1768.0,462.2 L1770.0,463.2 L1772.0,464.2 L1774.0,465.2 L1776.0,466.2 L1778.0,467.1 L1780.0,468.1 L1782.0,469.0 L1784.0,470.0 L1786.0,470.9 L1788.0,471.8 L1790.0,472.7 L1792.0,473.6 L1794.0,474.5 L1796.0,475.4 L1798.0,476.3 L1800.0,477.1 L1802.0,478.0 L1804.0,478.9 L1806.0,479.7 L1808.0,480.6 L1810.0,481.4 L1812.0,482.3 L1814.0,483.1 L1816.0,484.0 L1818.0,484.8 L1820.0,485.7 L1822.0,486.5 L1824.0,487.3 L1826.0,488.2 L1828.0,489.0 L1830.0,489.8 L1832.0,490.6 L1834.0,491.4 L1836.0,492.2 L1838.0,493.0 L1840.0,493.8 L1842.0,494.5 L1844.0,495.3 L1846.0,496.0 L1848.0,496.7 L1850.0,497.5 L1852.0,498.2 L1854.0,498.8 L1856.0,499.5 L1858.0,500.2 L1860.0,500.8 L1862.0,501.5 L1864.0,502.1 L1866.0,502.7 L1868.0,503.3 L1870.0,503.9 L1872.0,504.4 L1874.0,505.0 L1876.0,505.5 L1878.0,506.1 L1880.0,506.6 L1882.0,507.1 L1884.0,507.6 L1886.0,508.1 L1888.0,508.6 L1890.0,509.0 L1892.0,509.5 L1894.0,509.9 L1896.0,510.4 L1898.0,510.8 L1900.0,511.2 L1902.0,511.6 L1904.0,512.0 L1906.0,512.3 L1908.0,512.7 L1910.0,513.1 L1912.0,513.4 L1914.0,513.7 L1916.0,514.1 L1918.0,514.4 L1920.0,514.7 L1922.0,515.0 L1924.0,515.3 L1926.0,515.5 L1928.0,515.8 L1930.0,516.1 L1932.0,516.3 L1934.0,516.6 L1936.0,516.8 L1938.0,517.0 L1940.0,517.3 L1942.0,517.5 L1944.0,517.7 L1946.0,517.9 L1948.0,518.1 L1950.0,518.2 L1952.0,518.4 L1954.0,518.6 L1956.0,518.7 L1958.0,518.9 L1960.0,519.0 L1962.0,519.2 L1964.0,519.3 L1966.0,519.4 L1968.0,519.6 L1970.0,519.7 L1972.0,519.8 L1974.0,519.9 L1976.0,520.0 L1978.0,520.1 L1980.0,520.2 L1982.0,520.3 L1984.0,520.3 L1986.0,520.4 L1988.0,520.5 L1990.0,520.5 L1992.0,520.6 L1994.0,520.6 L1996.0,520.6 L1998.0,520.6 L2000.0,520.6 L2002.0,520.6 L2004.0,520.6 L2006.0,520.6 L2008.0,520.6 L2010.0,520.6 L2012.0,520.6 L2014.0,520.6 L2016.0,520.6 L2018.0,520.6 L2020.0,520.6 L2022.0,520.6 L2024.0,520.6 L2026.0,520.6 L2028.0,520.6 L2030.0,520.6 L2032.0,520.6 L2034.0,520.6 L2036.0,520.6 L2038.0,520.6 L2040.0,520.6 L2135.0,520.6" stroke="#00bfbf" stroke-linecap="square"/>
</g>
<g stroke="#000" fill="none">
<rect x="146.3" y="63.1" width="2083.3" height="915.4" stroke-width="3.2"/>
<line x1="146.3" y1="63.1" x2="160.7" y2="63.1" stroke-width="2.5"/>
<line x1="146.3" y1="292.0" x2="160.7" y2="292.0" stroke-width="2.5"/>
<line x1="146.3" y1="521.2" x2="160.7" y2="521.2" stroke-width="2.5"/>
<line x1="146.3" y1="750.0" x2="160.7" y2="750.0" stroke-width="2.5"/>
<line x1="146.3" y1="978.5" x2="160.7" y2="978.5" stroke-width="2.5"/>
<line x1="327.4" y1="978.5" x2="327.4" y2="964.1" stroke-width="2.5"/>
<line x1="689.5" y1="978.5" x2="689.5" y2="964.1" stroke-width="2.5"/>
<line x1="1051.7" y1="978.5" x2="1051.7" y2="964.1" stroke-width="2.5"/>
<line x1="1413.9" y1="978.5" x2="1413.9" y2="964.1" stroke-width="2.5"/>
<line x1="1776.0" y1="978.5" x2="1776.0" y2="964.1" stroke-width="2.5"/>
<line x1="2138.2" y1="978.5" x2="2138.2" y2="964.1" stroke-width="2.5"/>
</g>
<g font-family="DejaVu Sans, Liberation Sans, sans-serif" font-size="39" fill="#000">
<text x="132.3" y="77.6" text-anchor="end">5</text>
<text x="132.3" y="306.5" text-anchor="end">4</text>
<text x="132.3" y="535.7" text-anchor="end">3</text>
<text x="132.3" y="764.5" text-anchor="end">2</text>
<text x="132.3" y="993.0" text-anchor="end">1</text>
<text x="327.4" y="1023.1" text-anchor="middle">25</text>
<text x="689.5" y="1023.1" text-anchor="middle">20</text>
<text x="1051.7" y="1023.1" text-anchor="middle">15</text>
<text x="1413.9" y="1023.1" text-anchor="middle">10</text>
<text x="1776.0" y="1023.1" text-anchor="middle">5</text>
<text x="2138.2" y="1023.1" text-anchor="middle">0</text>
</g>
<rect x="725.5" y="81.7" width="1485.5" height="115.2" rx="4" ry="4" fill="#fff" fill-opacity="0.8" stroke="#d6d6d6" stroke-width="3.2"/>
<g fill="none" stroke-width="5.96">
<line x1="739.6" y1="110.3" x2="811.6" y2="110.3" stroke="#ff0000" stroke-linecap="square"/>
<line x1="739.6" y1="162.6" x2="811.6" y2="162.6" stroke="#00ff00" stroke-linecap="square"/>
<line x1="1089.2" y1="110.3" x2="1161.2" y2="110.3" stroke="#0000ff" stroke-linecap="square"/>
<line x1="1089.2" y1="162.6" x2="1161.2" y2="162.6" stroke="#ff00ff" stroke-dasharray="22.07 9.54"/>
<line x1="1438.6" y1="110.3" x2="1510.6" y2="110.3" stroke="#dc143c" stroke-dasharray="38.18 9.54 5.96 9.54"/>
<line x1="1438.6" y1="162.6" x2="1510.6" y2="162.6" stroke="#00bfbf" stroke-linecap="square"/>
</g>
<g font-family="DejaVu Sans, Liberation Sans, sans-serif" font-size="36" fill="#000">
<text x="838.6" y="122.5">178.83kts</text>
<text x="838.6" y="175.2">182.72kts</text>
<text x="1188.2" y="122.5">185.83kts</text>
<text x="1188.2" y="175.2">190.50kts</text>
<text x="1537.6" y="122.5" font-size="35.9">Calculated minimum safe separation</text>
<text x="1537.6" y="175.2" font-size="35.92">ICAO separation standard</text>
</g>
<text x="394.8" y="1096.3" font-family="'IPAGothic', 'WenQuanYi Zen Hei Mono', 'Noto Sans Mono CJK SC', monospace" font-size="63" fill="#000" stroke="#000" stroke-width="0.7" textLength="1383.75" lengthAdjust="spacingAndGlyphs">Distance from front aircraft to threshold</text>
<text x="1763.9" y="1091.9" font-family="Noto Sans CJK SC, IPAGothic, sans-serif" font-weight="300" font-size="60" fill="#000" textLength="78" lengthAdjust="spacingAndGlyphs">（</text>
<text x="1844.5" y="1096.3" font-family="'IPAGothic', 'WenQuanYi Zen Hei Mono', 'Noto Sans Mono CJK SC', monospace" font-size="63" fill="#000" font-weight="bold" textLength="70" lengthAdjust="spacingAndGlyphs">NM</text>
<text x="1916.85" y="1091.9" font-family="Noto Sans CJK SC, IPAGothic, sans-serif" font-weight="300" font-size="60" fill="#000" textLength="78" lengthAdjust="spacingAndGlyphs">）</text>
<g transform="translate(84.7,941.9) rotate(-90)">
<text x="0" y="0" font-family="'IPAGothic', 'WenQuanYi Zen Hei Mono', 'Noto Sans Mono CJK SC', monospace" font-size="63" fill="#000" stroke="#000" stroke-width="0.7" textLength="641.25" lengthAdjust="spacingAndGlyphs">Aircraft separation</text>
<text x="625.75" y="-4.8" font-family="Noto Sans CJK SC, IPAGothic, sans-serif" font-weight="300" font-size="60" fill="#000" textLength="78" lengthAdjust="spacingAndGlyphs">（</text>
<text x="708.75" y="0" font-family="'IPAGothic', 'WenQuanYi Zen Hei Mono', 'Noto Sans Mono CJK SC', monospace" font-size="63" fill="#000" font-weight="bold" textLength="67.50" lengthAdjust="spacingAndGlyphs">NM</text>
<text x="779.4" y="-4.8" font-family="Noto Sans CJK SC, IPAGothic, sans-serif" font-weight="300" font-size="60" fill="#000" textLength="78" lengthAdjust="spacingAndGlyphs">）</text>
</g>
</svg>
</body></html>
